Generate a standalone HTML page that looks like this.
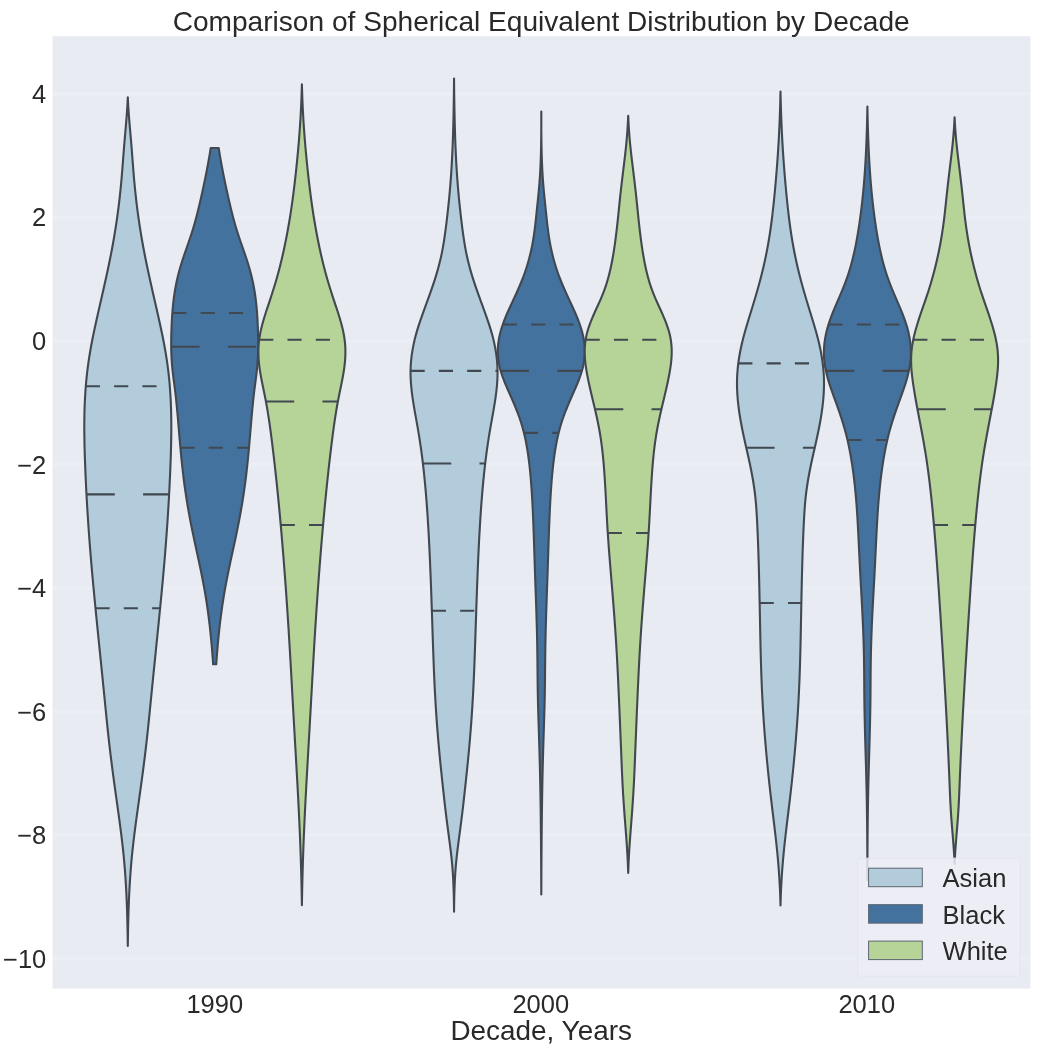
<!DOCTYPE html>
<html><head><meta charset="utf-8"><title>Violin</title>
<style>
html,body{margin:0;padding:0;background:#ffffff;}
body{width:1050px;height:1049px;overflow:hidden;}
svg{display:block;will-change:transform;opacity:0.999;}
text{font-family:"Liberation Sans",sans-serif;fill:#262626;}
</style></head><body>
<svg width="1050" height="1049" viewBox="0 0 1050 1049">
<rect x="52.5" y="36.2" width="978.0" height="952.4" fill="#e9ebf3"/>
<line x1="52.5" x2="1030.5" y1="93.73" y2="93.73" stroke="#ffffff" stroke-opacity="0.17" stroke-width="4"/>
<line x1="52.5" x2="1030.5" y1="217.29" y2="217.29" stroke="#ffffff" stroke-opacity="0.17" stroke-width="4"/>
<line x1="52.5" x2="1030.5" y1="340.85" y2="340.85" stroke="#ffffff" stroke-opacity="0.17" stroke-width="4"/>
<line x1="52.5" x2="1030.5" y1="464.41" y2="464.41" stroke="#ffffff" stroke-opacity="0.17" stroke-width="4"/>
<line x1="52.5" x2="1030.5" y1="587.97" y2="587.97" stroke="#ffffff" stroke-opacity="0.17" stroke-width="4"/>
<line x1="52.5" x2="1030.5" y1="711.53" y2="711.53" stroke="#ffffff" stroke-opacity="0.17" stroke-width="4"/>
<line x1="52.5" x2="1030.5" y1="835.09" y2="835.09" stroke="#ffffff" stroke-opacity="0.17" stroke-width="4"/>
<line x1="52.5" x2="1030.5" y1="958.65" y2="958.65" stroke="#ffffff" stroke-opacity="0.17" stroke-width="4"/>
<path d="M127.80,97.20 L127.71,99.20 L127.61,101.20 L127.51,103.20 L127.40,105.20 L127.28,107.20 L127.15,109.20 L127.02,111.20 L126.87,113.20 L126.73,115.20 L126.58,117.20 L126.42,119.20 L126.26,121.20 L126.09,123.20 L125.92,125.20 L125.75,127.20 L125.58,129.20 L125.40,131.20 L125.23,133.20 L125.06,135.20 L124.88,137.20 L124.71,139.20 L124.54,141.20 L124.37,143.20 L124.21,145.20 L124.05,147.20 L123.89,149.20 L123.73,151.20 L123.57,153.20 L123.42,155.20 L123.27,157.20 L123.11,159.20 L122.96,161.20 L122.81,163.20 L122.66,165.20 L122.51,167.20 L122.35,169.20 L122.19,171.20 L122.03,173.20 L121.86,175.20 L121.69,177.20 L121.52,179.20 L121.34,181.20 L121.15,183.20 L120.96,185.20 L120.77,187.20 L120.57,189.20 L120.37,191.20 L120.16,193.20 L119.94,195.20 L119.72,197.20 L119.50,199.20 L119.27,201.20 L119.03,203.20 L118.79,205.20 L118.54,207.20 L118.29,209.20 L118.03,211.20 L117.76,213.20 L117.49,215.20 L117.21,217.20 L116.93,219.20 L116.63,221.20 L116.34,223.20 L116.04,225.20 L115.73,227.20 L115.41,229.20 L115.09,231.20 L114.76,233.20 L114.43,235.20 L114.09,237.20 L113.74,239.20 L113.39,241.20 L113.03,243.20 L112.67,245.20 L112.30,247.20 L111.93,249.20 L111.54,251.20 L111.16,253.20 L110.77,255.20 L110.37,257.20 L109.97,259.20 L109.56,261.20 L109.15,263.20 L108.74,265.20 L108.32,267.20 L107.89,269.20 L107.47,271.20 L107.03,273.20 L106.60,275.20 L106.16,277.20 L105.72,279.20 L105.28,281.20 L104.84,283.20 L104.39,285.20 L103.94,287.20 L103.49,289.20 L103.04,291.20 L102.58,293.20 L102.13,295.20 L101.67,297.20 L101.22,299.20 L100.76,301.20 L100.30,303.20 L99.85,305.20 L99.39,307.20 L98.93,309.20 L98.48,311.20 L98.03,313.20 L97.58,315.20 L97.13,317.20 L96.68,319.20 L96.24,321.20 L95.80,323.20 L95.36,325.20 L94.93,327.20 L94.50,329.20 L94.07,331.20 L93.65,333.20 L93.23,335.20 L92.83,337.20 L92.43,339.20 L92.04,341.20 L91.66,343.20 L91.28,345.20 L90.92,347.20 L90.56,349.20 L90.22,351.20 L89.88,353.20 L89.55,355.20 L89.24,357.20 L88.93,359.20 L88.63,361.20 L88.35,363.20 L88.07,365.20 L87.80,367.20 L87.55,369.20 L87.30,371.20 L87.07,373.20 L86.85,375.20 L86.64,377.20 L86.43,379.20 L86.24,381.20 L86.06,383.20 L85.89,385.20 L85.73,387.20 L85.58,389.20 L85.43,391.20 L85.30,393.20 L85.18,395.20 L85.06,397.20 L84.96,399.20 L84.86,401.20 L84.77,403.20 L84.69,405.20 L84.62,407.20 L84.55,409.20 L84.50,411.20 L84.45,413.20 L84.41,415.20 L84.37,417.20 L84.35,419.20 L84.32,421.20 L84.31,423.20 L84.30,425.20 L84.30,427.20 L84.30,429.20 L84.31,431.20 L84.33,433.20 L84.35,435.20 L84.38,437.20 L84.41,439.20 L84.44,441.20 L84.48,443.20 L84.52,445.20 L84.57,447.20 L84.62,449.20 L84.68,451.20 L84.74,453.20 L84.80,455.20 L84.87,457.20 L84.93,459.20 L85.00,461.20 L85.08,463.20 L85.15,465.20 L85.23,467.20 L85.31,469.20 L85.39,471.20 L85.47,473.20 L85.56,475.20 L85.65,477.20 L85.74,479.20 L85.83,481.20 L85.93,483.20 L86.02,485.20 L86.12,487.20 L86.22,489.20 L86.32,491.20 L86.43,493.20 L86.53,495.20 L86.64,497.20 L86.75,499.20 L86.87,501.20 L86.98,503.20 L87.10,505.20 L87.22,507.20 L87.34,509.20 L87.46,511.20 L87.59,513.20 L87.71,515.20 L87.84,517.20 L87.97,519.20 L88.10,521.20 L88.24,523.20 L88.37,525.20 L88.51,527.20 L88.65,529.20 L88.79,531.20 L88.94,533.20 L89.08,535.20 L89.23,537.20 L89.38,539.20 L89.53,541.20 L89.68,543.20 L89.84,545.20 L89.99,547.20 L90.15,549.20 L90.31,551.20 L90.47,553.20 L90.64,555.20 L90.80,557.20 L90.97,559.20 L91.13,561.20 L91.30,563.20 L91.47,565.20 L91.65,567.20 L91.82,569.20 L92.00,571.20 L92.17,573.20 L92.35,575.20 L92.53,577.20 L92.72,579.20 L92.90,581.20 L93.08,583.20 L93.27,585.20 L93.46,587.20 L93.65,589.20 L93.84,591.20 L94.03,593.20 L94.22,595.20 L94.41,597.20 L94.60,599.20 L94.80,601.20 L94.99,603.20 L95.19,605.20 L95.38,607.20 L95.58,609.20 L95.78,611.20 L95.98,613.20 L96.17,615.20 L96.37,617.20 L96.57,619.20 L96.77,621.20 L96.97,623.20 L97.17,625.20 L97.37,627.20 L97.57,629.20 L97.78,631.20 L97.98,633.20 L98.18,635.20 L98.38,637.20 L98.58,639.20 L98.79,641.20 L98.99,643.20 L99.19,645.20 L99.40,647.20 L99.60,649.20 L99.80,651.20 L100.00,653.20 L100.21,655.20 L100.41,657.20 L100.61,659.20 L100.82,661.20 L101.02,663.20 L101.22,665.20 L101.43,667.20 L101.63,669.20 L101.83,671.20 L102.03,673.20 L102.24,675.20 L102.44,677.20 L102.64,679.20 L102.84,681.20 L103.04,683.20 L103.24,685.20 L103.44,687.20 L103.64,689.20 L103.84,691.20 L104.04,693.20 L104.24,695.20 L104.44,697.20 L104.64,699.20 L104.84,701.20 L105.04,703.20 L105.23,705.20 L105.43,707.20 L105.63,709.20 L105.83,711.20 L106.03,713.20 L106.23,715.20 L106.43,717.20 L106.63,719.20 L106.83,721.20 L107.04,723.20 L107.24,725.20 L107.45,727.20 L107.66,729.20 L107.87,731.20 L108.09,733.20 L108.31,735.20 L108.52,737.20 L108.75,739.20 L108.97,741.20 L109.20,743.20 L109.42,745.20 L109.66,747.20 L109.89,749.20 L110.13,751.20 L110.37,753.20 L110.61,755.20 L110.85,757.20 L111.10,759.20 L111.35,761.20 L111.60,763.20 L111.86,765.20 L112.11,767.20 L112.37,769.20 L112.63,771.20 L112.90,773.20 L113.16,775.20 L113.43,777.20 L113.70,779.20 L113.97,781.20 L114.25,783.20 L114.52,785.20 L114.80,787.20 L115.07,789.20 L115.35,791.20 L115.63,793.20 L115.91,795.20 L116.19,797.20 L116.47,799.20 L116.75,801.20 L117.03,803.20 L117.31,805.20 L117.59,807.20 L117.87,809.20 L118.15,811.20 L118.42,813.20 L118.70,815.20 L118.97,817.20 L119.25,819.20 L119.52,821.20 L119.78,823.20 L120.05,825.20 L120.31,827.20 L120.57,829.20 L120.83,831.20 L121.08,833.20 L121.33,835.20 L121.58,837.20 L121.82,839.20 L122.06,841.20 L122.30,843.20 L122.52,845.20 L122.75,847.20 L122.96,849.20 L123.18,851.20 L123.38,853.20 L123.59,855.20 L123.78,857.20 L123.97,859.20 L124.15,861.20 L124.33,863.20 L124.50,865.20 L124.67,867.20 L124.83,869.20 L124.99,871.20 L125.14,873.20 L125.28,875.20 L125.42,877.20 L125.55,879.20 L125.68,881.20 L125.80,883.20 L125.92,885.20 L126.03,887.20 L126.14,889.20 L126.25,891.20 L126.35,893.20 L126.44,895.20 L126.53,897.20 L126.62,899.20 L126.70,901.20 L126.78,903.20 L126.86,905.20 L126.93,907.20 L127.00,909.20 L127.06,911.20 L127.13,913.20 L127.19,915.20 L127.24,917.20 L127.30,919.20 L127.35,921.20 L127.40,923.20 L127.44,925.20 L127.49,927.20 L127.53,929.20 L127.57,931.20 L127.61,933.20 L127.64,935.20 L127.68,937.20 L127.71,939.20 L127.74,941.20 L127.77,943.20 L127.80,945.20 L127.80,946.00 L127.80,946.00 L127.80,945.20 L127.83,943.20 L127.86,941.20 L127.89,939.20 L127.92,937.20 L127.96,935.20 L127.99,933.20 L128.03,931.20 L128.07,929.20 L128.11,927.20 L128.16,925.20 L128.20,923.20 L128.25,921.20 L128.30,919.20 L128.36,917.20 L128.41,915.20 L128.47,913.20 L128.54,911.20 L128.60,909.20 L128.67,907.20 L128.74,905.20 L128.82,903.20 L128.90,901.20 L128.98,899.20 L129.07,897.20 L129.16,895.20 L129.25,893.20 L129.35,891.20 L129.46,889.20 L129.57,887.20 L129.68,885.20 L129.80,883.20 L129.92,881.20 L130.05,879.20 L130.18,877.20 L130.32,875.20 L130.46,873.20 L130.61,871.20 L130.77,869.20 L130.93,867.20 L131.10,865.20 L131.27,863.20 L131.45,861.20 L131.63,859.20 L131.82,857.20 L132.01,855.20 L132.22,853.20 L132.42,851.20 L132.64,849.20 L132.85,847.20 L133.08,845.20 L133.30,843.20 L133.54,841.20 L133.78,839.20 L134.02,837.20 L134.27,835.20 L134.52,833.20 L134.77,831.20 L135.03,829.20 L135.29,827.20 L135.55,825.20 L135.82,823.20 L136.08,821.20 L136.35,819.20 L136.63,817.20 L136.90,815.20 L137.18,813.20 L137.45,811.20 L137.73,809.20 L138.01,807.20 L138.29,805.20 L138.57,803.20 L138.85,801.20 L139.13,799.20 L139.41,797.20 L139.69,795.20 L139.97,793.20 L140.25,791.20 L140.53,789.20 L140.80,787.20 L141.08,785.20 L141.35,783.20 L141.63,781.20 L141.90,779.20 L142.17,777.20 L142.44,775.20 L142.70,773.20 L142.97,771.20 L143.23,769.20 L143.49,767.20 L143.74,765.20 L144.00,763.20 L144.25,761.20 L144.50,759.20 L144.75,757.20 L144.99,755.20 L145.23,753.20 L145.47,751.20 L145.71,749.20 L145.94,747.20 L146.18,745.20 L146.40,743.20 L146.63,741.20 L146.85,739.20 L147.08,737.20 L147.29,735.20 L147.51,733.20 L147.73,731.20 L147.94,729.20 L148.15,727.20 L148.36,725.20 L148.56,723.20 L148.77,721.20 L148.97,719.20 L149.17,717.20 L149.37,715.20 L149.57,713.20 L149.77,711.20 L149.97,709.20 L150.17,707.20 L150.37,705.20 L150.56,703.20 L150.76,701.20 L150.96,699.20 L151.16,697.20 L151.36,695.20 L151.56,693.20 L151.76,691.20 L151.96,689.20 L152.16,687.20 L152.36,685.20 L152.56,683.20 L152.76,681.20 L152.96,679.20 L153.16,677.20 L153.36,675.20 L153.57,673.20 L153.77,671.20 L153.97,669.20 L154.17,667.20 L154.38,665.20 L154.58,663.20 L154.78,661.20 L154.99,659.20 L155.19,657.20 L155.39,655.20 L155.60,653.20 L155.80,651.20 L156.00,649.20 L156.20,647.20 L156.41,645.20 L156.61,643.20 L156.81,641.20 L157.02,639.20 L157.22,637.20 L157.42,635.20 L157.62,633.20 L157.82,631.20 L158.03,629.20 L158.23,627.20 L158.43,625.20 L158.63,623.20 L158.83,621.20 L159.03,619.20 L159.23,617.20 L159.43,615.20 L159.62,613.20 L159.82,611.20 L160.02,609.20 L160.22,607.20 L160.41,605.20 L160.61,603.20 L160.80,601.20 L161.00,599.20 L161.19,597.20 L161.38,595.20 L161.57,593.20 L161.76,591.20 L161.95,589.20 L162.14,587.20 L162.33,585.20 L162.52,583.20 L162.70,581.20 L162.88,579.20 L163.07,577.20 L163.25,575.20 L163.43,573.20 L163.60,571.20 L163.78,569.20 L163.95,567.20 L164.13,565.20 L164.30,563.20 L164.47,561.20 L164.63,559.20 L164.80,557.20 L164.96,555.20 L165.13,553.20 L165.29,551.20 L165.45,549.20 L165.61,547.20 L165.76,545.20 L165.92,543.20 L166.07,541.20 L166.22,539.20 L166.37,537.20 L166.52,535.20 L166.66,533.20 L166.81,531.20 L166.95,529.20 L167.09,527.20 L167.23,525.20 L167.36,523.20 L167.50,521.20 L167.63,519.20 L167.76,517.20 L167.89,515.20 L168.01,513.20 L168.14,511.20 L168.26,509.20 L168.38,507.20 L168.50,505.20 L168.62,503.20 L168.73,501.20 L168.85,499.20 L168.96,497.20 L169.07,495.20 L169.17,493.20 L169.28,491.20 L169.38,489.20 L169.48,487.20 L169.58,485.20 L169.67,483.20 L169.77,481.20 L169.86,479.20 L169.95,477.20 L170.04,475.20 L170.13,473.20 L170.21,471.20 L170.29,469.20 L170.37,467.20 L170.45,465.20 L170.52,463.20 L170.60,461.20 L170.67,459.20 L170.73,457.20 L170.80,455.20 L170.86,453.20 L170.92,451.20 L170.98,449.20 L171.03,447.20 L171.08,445.20 L171.12,443.20 L171.16,441.20 L171.19,439.20 L171.22,437.20 L171.25,435.20 L171.27,433.20 L171.29,431.20 L171.30,429.20 L171.30,427.20 L171.30,425.20 L171.29,423.20 L171.28,421.20 L171.25,419.20 L171.23,417.20 L171.19,415.20 L171.15,413.20 L171.10,411.20 L171.05,409.20 L170.98,407.20 L170.91,405.20 L170.83,403.20 L170.74,401.20 L170.64,399.20 L170.54,397.20 L170.42,395.20 L170.30,393.20 L170.17,391.20 L170.02,389.20 L169.87,387.20 L169.71,385.20 L169.54,383.20 L169.36,381.20 L169.17,379.20 L168.96,377.20 L168.75,375.20 L168.53,373.20 L168.30,371.20 L168.05,369.20 L167.80,367.20 L167.53,365.20 L167.25,363.20 L166.97,361.20 L166.67,359.20 L166.36,357.20 L166.05,355.20 L165.72,353.20 L165.38,351.20 L165.04,349.20 L164.68,347.20 L164.32,345.20 L163.94,343.20 L163.56,341.20 L163.17,339.20 L162.77,337.20 L162.37,335.20 L161.95,333.20 L161.53,331.20 L161.10,329.20 L160.67,327.20 L160.24,325.20 L159.80,323.20 L159.36,321.20 L158.92,319.20 L158.47,317.20 L158.02,315.20 L157.57,313.20 L157.12,311.20 L156.67,309.20 L156.21,307.20 L155.75,305.20 L155.30,303.20 L154.84,301.20 L154.38,299.20 L153.93,297.20 L153.47,295.20 L153.02,293.20 L152.56,291.20 L152.11,289.20 L151.66,287.20 L151.21,285.20 L150.76,283.20 L150.32,281.20 L149.88,279.20 L149.44,277.20 L149.00,275.20 L148.57,273.20 L148.13,271.20 L147.71,269.20 L147.28,267.20 L146.86,265.20 L146.45,263.20 L146.04,261.20 L145.63,259.20 L145.23,257.20 L144.83,255.20 L144.44,253.20 L144.06,251.20 L143.67,249.20 L143.30,247.20 L142.93,245.20 L142.57,243.20 L142.21,241.20 L141.86,239.20 L141.51,237.20 L141.17,235.20 L140.84,233.20 L140.51,231.20 L140.19,229.20 L139.87,227.20 L139.56,225.20 L139.26,223.20 L138.97,221.20 L138.67,219.20 L138.39,217.20 L138.11,215.20 L137.84,213.20 L137.57,211.20 L137.31,209.20 L137.06,207.20 L136.81,205.20 L136.57,203.20 L136.33,201.20 L136.10,199.20 L135.88,197.20 L135.66,195.20 L135.44,193.20 L135.23,191.20 L135.03,189.20 L134.83,187.20 L134.64,185.20 L134.45,183.20 L134.26,181.20 L134.08,179.20 L133.91,177.20 L133.74,175.20 L133.57,173.20 L133.41,171.20 L133.25,169.20 L133.09,167.20 L132.94,165.20 L132.79,163.20 L132.64,161.20 L132.49,159.20 L132.33,157.20 L132.18,155.20 L132.03,153.20 L131.87,151.20 L131.71,149.20 L131.55,147.20 L131.39,145.20 L131.23,143.20 L131.06,141.20 L130.89,139.20 L130.72,137.20 L130.54,135.20 L130.37,133.20 L130.20,131.20 L130.02,129.20 L129.85,127.20 L129.68,125.20 L129.51,123.20 L129.34,121.20 L129.18,119.20 L129.02,117.20 L128.87,115.20 L128.73,113.20 L128.58,111.20 L128.45,109.20 L128.32,107.20 L128.20,105.20 L128.09,103.20 L127.99,101.20 L127.89,99.20 L127.80,97.20 Z" fill="#B3CCDB" stroke="#414850" stroke-width="2.1" stroke-linejoin="round"/>
<line x1="85.80" x2="169.80" y1="386.30" y2="386.30" stroke="#414850" stroke-width="2.1" stroke-dasharray="14.15,14.15"/>
<line x1="86.49" x2="169.11" y1="494.40" y2="494.40" stroke="#414850" stroke-width="2.1" stroke-dasharray="28.3,28.3"/>
<line x1="95.48" x2="160.12" y1="608.20" y2="608.20" stroke="#414850" stroke-width="2.1" stroke-dasharray="14.15,14.15"/>
<path d="M210.70,148.00 L210.38,150.00 L210.07,152.00 L209.75,154.00 L209.42,156.00 L209.08,158.00 L208.73,160.00 L208.37,162.00 L208.01,164.00 L207.64,166.00 L207.26,168.00 L206.87,170.00 L206.48,172.00 L206.09,174.00 L205.69,176.00 L205.28,178.00 L204.87,180.00 L204.45,182.00 L204.03,184.00 L203.61,186.00 L203.18,188.00 L202.75,190.00 L202.31,192.00 L201.87,194.00 L201.42,196.00 L200.97,198.00 L200.52,200.00 L200.06,202.00 L199.59,204.00 L199.12,206.00 L198.64,208.00 L198.15,210.00 L197.65,212.00 L197.15,214.00 L196.64,216.00 L196.11,218.00 L195.57,220.00 L195.02,222.00 L194.45,224.00 L193.87,226.00 L193.27,228.00 L192.65,230.00 L192.02,232.00 L191.38,234.00 L190.72,236.00 L190.06,238.00 L189.38,240.00 L188.70,242.00 L188.00,244.00 L187.31,246.00 L186.61,248.00 L185.92,250.00 L185.22,252.00 L184.53,254.00 L183.85,256.00 L183.17,258.00 L182.52,260.00 L181.87,262.00 L181.25,264.00 L180.64,266.00 L180.05,268.00 L179.49,270.00 L178.95,272.00 L178.43,274.00 L177.93,276.00 L177.45,278.00 L177.00,280.00 L176.57,282.00 L176.15,284.00 L175.77,286.00 L175.40,288.00 L175.05,290.00 L174.72,292.00 L174.41,294.00 L174.12,296.00 L173.85,298.00 L173.60,300.00 L173.36,302.00 L173.14,304.00 L172.94,306.00 L172.75,308.00 L172.58,310.00 L172.42,312.00 L172.27,314.00 L172.14,316.00 L172.01,318.00 L171.90,320.00 L171.79,322.00 L171.70,324.00 L171.61,326.00 L171.53,328.00 L171.46,330.00 L171.39,332.00 L171.33,334.00 L171.29,336.00 L171.25,338.00 L171.22,340.00 L171.20,342.00 L171.20,344.00 L171.21,346.00 L171.23,348.00 L171.26,350.00 L171.31,352.00 L171.38,354.00 L171.46,356.00 L171.55,358.00 L171.67,360.00 L171.80,362.00 L171.95,364.00 L172.11,366.00 L172.30,368.00 L172.50,370.00 L172.73,372.00 L172.96,374.00 L173.21,376.00 L173.46,378.00 L173.72,380.00 L173.99,382.00 L174.25,384.00 L174.51,386.00 L174.77,388.00 L175.02,390.00 L175.26,392.00 L175.49,394.00 L175.72,396.00 L175.94,398.00 L176.15,400.00 L176.36,402.00 L176.56,404.00 L176.76,406.00 L176.95,408.00 L177.14,410.00 L177.32,412.00 L177.50,414.00 L177.68,416.00 L177.86,418.00 L178.03,420.00 L178.20,422.00 L178.37,424.00 L178.54,426.00 L178.71,428.00 L178.88,430.00 L179.05,432.00 L179.22,434.00 L179.38,436.00 L179.55,438.00 L179.73,440.00 L179.90,442.00 L180.07,444.00 L180.25,446.00 L180.43,448.00 L180.61,450.00 L180.80,452.00 L180.99,454.00 L181.18,456.00 L181.37,458.00 L181.57,460.00 L181.78,462.00 L181.99,464.00 L182.20,466.00 L182.42,468.00 L182.64,470.00 L182.87,472.00 L183.10,474.00 L183.34,476.00 L183.59,478.00 L183.84,480.00 L184.10,482.00 L184.36,484.00 L184.63,486.00 L184.91,488.00 L185.19,490.00 L185.48,492.00 L185.78,494.00 L186.08,496.00 L186.39,498.00 L186.71,500.00 L187.03,502.00 L187.36,504.00 L187.69,506.00 L188.04,508.00 L188.38,510.00 L188.74,512.00 L189.10,514.00 L189.47,516.00 L189.84,518.00 L190.22,520.00 L190.60,522.00 L190.99,524.00 L191.39,526.00 L191.79,528.00 L192.19,530.00 L192.60,532.00 L193.01,534.00 L193.43,536.00 L193.85,538.00 L194.27,540.00 L194.70,542.00 L195.13,544.00 L195.56,546.00 L195.99,548.00 L196.43,550.00 L196.86,552.00 L197.30,554.00 L197.73,556.00 L198.17,558.00 L198.60,560.00 L199.03,562.00 L199.45,564.00 L199.88,566.00 L200.30,568.00 L200.71,570.00 L201.12,572.00 L201.53,574.00 L201.93,576.00 L202.32,578.00 L202.71,580.00 L203.10,582.00 L203.47,584.00 L203.85,586.00 L204.21,588.00 L204.57,590.00 L204.92,592.00 L205.26,594.00 L205.59,596.00 L205.92,598.00 L206.24,600.00 L206.55,602.00 L206.86,604.00 L207.16,606.00 L207.45,608.00 L207.73,610.00 L208.00,612.00 L208.27,614.00 L208.53,616.00 L208.78,618.00 L209.03,620.00 L209.27,622.00 L209.50,624.00 L209.73,626.00 L209.95,628.00 L210.17,630.00 L210.38,632.00 L210.59,634.00 L210.79,636.00 L210.98,638.00 L211.18,640.00 L211.36,642.00 L211.55,644.00 L211.73,646.00 L211.90,648.00 L212.07,650.00 L212.23,652.00 L212.39,654.00 L212.55,656.00 L212.70,658.00 L212.85,660.00 L212.99,662.00 L213.13,664.00 L213.10,664.30 L216.30,664.30 L216.27,664.00 L216.41,662.00 L216.55,660.00 L216.70,658.00 L216.85,656.00 L217.01,654.00 L217.17,652.00 L217.33,650.00 L217.50,648.00 L217.67,646.00 L217.85,644.00 L218.04,642.00 L218.22,640.00 L218.42,638.00 L218.61,636.00 L218.81,634.00 L219.02,632.00 L219.23,630.00 L219.45,628.00 L219.67,626.00 L219.90,624.00 L220.13,622.00 L220.37,620.00 L220.62,618.00 L220.87,616.00 L221.13,614.00 L221.40,612.00 L221.67,610.00 L221.95,608.00 L222.24,606.00 L222.54,604.00 L222.85,602.00 L223.16,600.00 L223.48,598.00 L223.81,596.00 L224.14,594.00 L224.48,592.00 L224.83,590.00 L225.19,588.00 L225.55,586.00 L225.93,584.00 L226.30,582.00 L226.69,580.00 L227.08,578.00 L227.47,576.00 L227.87,574.00 L228.28,572.00 L228.69,570.00 L229.10,568.00 L229.52,566.00 L229.95,564.00 L230.37,562.00 L230.80,560.00 L231.23,558.00 L231.67,556.00 L232.10,554.00 L232.54,552.00 L232.97,550.00 L233.41,548.00 L233.84,546.00 L234.27,544.00 L234.70,542.00 L235.13,540.00 L235.55,538.00 L235.97,536.00 L236.39,534.00 L236.80,532.00 L237.21,530.00 L237.61,528.00 L238.01,526.00 L238.41,524.00 L238.80,522.00 L239.18,520.00 L239.56,518.00 L239.93,516.00 L240.30,514.00 L240.66,512.00 L241.02,510.00 L241.36,508.00 L241.71,506.00 L242.04,504.00 L242.37,502.00 L242.69,500.00 L243.01,498.00 L243.32,496.00 L243.62,494.00 L243.92,492.00 L244.21,490.00 L244.49,488.00 L244.77,486.00 L245.04,484.00 L245.30,482.00 L245.56,480.00 L245.81,478.00 L246.06,476.00 L246.30,474.00 L246.53,472.00 L246.76,470.00 L246.98,468.00 L247.20,466.00 L247.41,464.00 L247.62,462.00 L247.83,460.00 L248.03,458.00 L248.22,456.00 L248.41,454.00 L248.60,452.00 L248.79,450.00 L248.97,448.00 L249.15,446.00 L249.33,444.00 L249.50,442.00 L249.67,440.00 L249.85,438.00 L250.02,436.00 L250.18,434.00 L250.35,432.00 L250.52,430.00 L250.69,428.00 L250.86,426.00 L251.03,424.00 L251.20,422.00 L251.37,420.00 L251.54,418.00 L251.72,416.00 L251.90,414.00 L252.08,412.00 L252.26,410.00 L252.45,408.00 L252.64,406.00 L252.84,404.00 L253.04,402.00 L253.25,400.00 L253.46,398.00 L253.68,396.00 L253.91,394.00 L254.14,392.00 L254.38,390.00 L254.63,388.00 L254.89,386.00 L255.15,384.00 L255.41,382.00 L255.68,380.00 L255.94,378.00 L256.19,376.00 L256.44,374.00 L256.67,372.00 L256.90,370.00 L257.10,368.00 L257.29,366.00 L257.45,364.00 L257.60,362.00 L257.73,360.00 L257.85,358.00 L257.94,356.00 L258.02,354.00 L258.09,352.00 L258.14,350.00 L258.17,348.00 L258.19,346.00 L258.20,344.00 L258.20,342.00 L258.18,340.00 L258.15,338.00 L258.11,336.00 L258.07,334.00 L258.01,332.00 L257.94,330.00 L257.87,328.00 L257.79,326.00 L257.70,324.00 L257.61,322.00 L257.50,320.00 L257.39,318.00 L257.26,316.00 L257.13,314.00 L256.98,312.00 L256.82,310.00 L256.65,308.00 L256.46,306.00 L256.26,304.00 L256.04,302.00 L255.80,300.00 L255.55,298.00 L255.28,296.00 L254.99,294.00 L254.68,292.00 L254.35,290.00 L254.00,288.00 L253.63,286.00 L253.25,284.00 L252.83,282.00 L252.40,280.00 L251.95,278.00 L251.47,276.00 L250.97,274.00 L250.45,272.00 L249.91,270.00 L249.35,268.00 L248.76,266.00 L248.15,264.00 L247.53,262.00 L246.88,260.00 L246.23,258.00 L245.55,256.00 L244.87,254.00 L244.18,252.00 L243.48,250.00 L242.79,248.00 L242.09,246.00 L241.40,244.00 L240.70,242.00 L240.02,240.00 L239.34,238.00 L238.68,236.00 L238.02,234.00 L237.38,232.00 L236.75,230.00 L236.13,228.00 L235.53,226.00 L234.95,224.00 L234.38,222.00 L233.83,220.00 L233.29,218.00 L232.76,216.00 L232.25,214.00 L231.75,212.00 L231.25,210.00 L230.76,208.00 L230.28,206.00 L229.81,204.00 L229.34,202.00 L228.88,200.00 L228.43,198.00 L227.98,196.00 L227.53,194.00 L227.09,192.00 L226.65,190.00 L226.22,188.00 L225.79,186.00 L225.37,184.00 L224.95,182.00 L224.53,180.00 L224.12,178.00 L223.71,176.00 L223.31,174.00 L222.92,172.00 L222.53,170.00 L222.14,168.00 L221.76,166.00 L221.39,164.00 L221.03,162.00 L220.67,160.00 L220.32,158.00 L219.98,156.00 L219.65,154.00 L219.33,152.00 L219.02,150.00 L218.70,148.00 Z" fill="#44729F" stroke="#414850" stroke-width="2.1" stroke-linejoin="round"/>
<line x1="172.34" x2="257.06" y1="313.00" y2="313.00" stroke="#414850" stroke-width="2.1" stroke-dasharray="14.15,14.15"/>
<line x1="171.21" x2="258.19" y1="346.80" y2="346.80" stroke="#414850" stroke-width="2.1" stroke-dasharray="28.3,28.3"/>
<line x1="180.41" x2="248.99" y1="447.80" y2="447.80" stroke="#414850" stroke-width="2.1" stroke-dasharray="14.15,14.15"/>
<path d="M301.90,84.30 L301.85,86.30 L301.79,88.30 L301.73,90.30 L301.67,92.30 L301.60,94.30 L301.53,96.30 L301.46,98.30 L301.38,100.30 L301.30,102.30 L301.21,104.30 L301.12,106.30 L301.02,108.30 L300.92,110.30 L300.82,112.30 L300.71,114.30 L300.60,116.30 L300.49,118.30 L300.37,120.30 L300.24,122.30 L300.11,124.30 L299.98,126.30 L299.84,128.30 L299.70,130.30 L299.56,132.30 L299.41,134.30 L299.25,136.30 L299.10,138.30 L298.93,140.30 L298.77,142.30 L298.60,144.30 L298.43,146.30 L298.25,148.30 L298.07,150.30 L297.89,152.30 L297.70,154.30 L297.51,156.30 L297.32,158.30 L297.13,160.30 L296.93,162.30 L296.72,164.30 L296.52,166.30 L296.31,168.30 L296.10,170.30 L295.88,172.30 L295.66,174.30 L295.44,176.30 L295.22,178.30 L294.99,180.30 L294.76,182.30 L294.52,184.30 L294.28,186.30 L294.04,188.30 L293.79,190.30 L293.54,192.30 L293.28,194.30 L293.02,196.30 L292.76,198.30 L292.49,200.30 L292.21,202.30 L291.93,204.30 L291.64,206.30 L291.35,208.30 L291.05,210.30 L290.75,212.30 L290.44,214.30 L290.13,216.30 L289.80,218.30 L289.48,220.30 L289.14,222.30 L288.80,224.30 L288.46,226.30 L288.10,228.30 L287.74,230.30 L287.38,232.30 L287.00,234.30 L286.62,236.30 L286.24,238.30 L285.84,240.30 L285.44,242.30 L285.03,244.30 L284.61,246.30 L284.19,248.30 L283.76,250.30 L283.31,252.30 L282.87,254.30 L282.41,256.30 L281.94,258.30 L281.47,260.30 L280.98,262.30 L280.49,264.30 L279.99,266.30 L279.47,268.30 L278.95,270.30 L278.42,272.30 L277.87,274.30 L277.32,276.30 L276.76,278.30 L276.18,280.30 L275.59,282.30 L275.00,284.30 L274.39,286.30 L273.76,288.30 L273.13,290.30 L272.49,292.30 L271.84,294.30 L271.19,296.30 L270.53,298.30 L269.87,300.30 L269.20,302.30 L268.54,304.30 L267.87,306.30 L267.21,308.30 L266.56,310.30 L265.91,312.30 L265.28,314.30 L264.65,316.30 L264.05,318.30 L263.46,320.30 L262.89,322.30 L262.34,324.30 L261.82,326.30 L261.33,328.30 L260.86,330.30 L260.44,332.30 L260.04,334.30 L259.69,336.30 L259.37,338.30 L259.10,340.30 L258.88,342.30 L258.69,344.30 L258.56,346.30 L258.46,348.30 L258.41,350.30 L258.40,352.30 L258.43,354.30 L258.50,356.30 L258.60,358.30 L258.74,360.30 L258.91,362.30 L259.11,364.30 L259.35,366.30 L259.61,368.30 L259.90,370.30 L260.21,372.30 L260.55,374.30 L260.90,376.30 L261.27,378.30 L261.65,380.30 L262.04,382.30 L262.44,384.30 L262.85,386.30 L263.26,388.30 L263.67,390.30 L264.08,392.30 L264.49,394.30 L264.89,396.30 L265.29,398.30 L265.68,400.30 L266.06,402.30 L266.43,404.30 L266.79,406.30 L267.14,408.30 L267.48,410.30 L267.81,412.30 L268.13,414.30 L268.45,416.30 L268.76,418.30 L269.06,420.30 L269.36,422.30 L269.65,424.30 L269.93,426.30 L270.21,428.30 L270.48,430.30 L270.75,432.30 L271.01,434.30 L271.27,436.30 L271.53,438.30 L271.79,440.30 L272.04,442.30 L272.28,444.30 L272.53,446.30 L272.77,448.30 L273.01,450.30 L273.25,452.30 L273.49,454.30 L273.73,456.30 L273.96,458.30 L274.19,460.30 L274.42,462.30 L274.65,464.30 L274.87,466.30 L275.10,468.30 L275.32,470.30 L275.54,472.30 L275.75,474.30 L275.97,476.30 L276.18,478.30 L276.40,480.30 L276.61,482.30 L276.82,484.30 L277.03,486.30 L277.23,488.30 L277.44,490.30 L277.64,492.30 L277.84,494.30 L278.04,496.30 L278.24,498.30 L278.43,500.30 L278.63,502.30 L278.82,504.30 L279.01,506.30 L279.20,508.30 L279.39,510.30 L279.58,512.30 L279.77,514.30 L279.95,516.30 L280.13,518.30 L280.32,520.30 L280.50,522.30 L280.68,524.30 L280.86,526.30 L281.03,528.30 L281.21,530.30 L281.38,532.30 L281.56,534.30 L281.73,536.30 L281.90,538.30 L282.07,540.30 L282.24,542.30 L282.40,544.30 L282.57,546.30 L282.73,548.30 L282.90,550.30 L283.06,552.30 L283.22,554.30 L283.38,556.30 L283.54,558.30 L283.70,560.30 L283.86,562.30 L284.01,564.30 L284.17,566.30 L284.32,568.30 L284.47,570.30 L284.63,572.30 L284.78,574.30 L284.93,576.30 L285.08,578.30 L285.22,580.30 L285.37,582.30 L285.52,584.30 L285.66,586.30 L285.81,588.30 L285.95,590.30 L286.09,592.30 L286.23,594.30 L286.37,596.30 L286.51,598.30 L286.65,600.30 L286.79,602.30 L286.93,604.30 L287.06,606.30 L287.20,608.30 L287.33,610.30 L287.47,612.30 L287.60,614.30 L287.73,616.30 L287.86,618.30 L287.99,620.30 L288.12,622.30 L288.25,624.30 L288.38,626.30 L288.50,628.30 L288.63,630.30 L288.76,632.30 L288.88,634.30 L289.00,636.30 L289.13,638.30 L289.25,640.30 L289.37,642.30 L289.49,644.30 L289.61,646.30 L289.73,648.30 L289.85,650.30 L289.97,652.30 L290.08,654.30 L290.20,656.30 L290.32,658.30 L290.43,660.30 L290.55,662.30 L290.66,664.30 L290.77,666.30 L290.89,668.30 L291.00,670.30 L291.11,672.30 L291.22,674.30 L291.33,676.30 L291.45,678.30 L291.56,680.30 L291.67,682.30 L291.78,684.30 L291.89,686.30 L292.00,688.30 L292.11,690.30 L292.22,692.30 L292.33,694.30 L292.44,696.30 L292.56,698.30 L292.67,700.30 L292.78,702.30 L292.89,704.30 L293.00,706.30 L293.11,708.30 L293.22,710.30 L293.34,712.30 L293.45,714.30 L293.56,716.30 L293.67,718.30 L293.79,720.30 L293.90,722.30 L294.01,724.30 L294.13,726.30 L294.24,728.30 L294.35,730.30 L294.47,732.30 L294.58,734.30 L294.70,736.30 L294.81,738.30 L294.92,740.30 L295.04,742.30 L295.15,744.30 L295.27,746.30 L295.38,748.30 L295.50,750.30 L295.61,752.30 L295.73,754.30 L295.84,756.30 L295.95,758.30 L296.07,760.30 L296.18,762.30 L296.30,764.30 L296.41,766.30 L296.52,768.30 L296.64,770.30 L296.75,772.30 L296.86,774.30 L296.97,776.30 L297.09,778.30 L297.20,780.30 L297.31,782.30 L297.42,784.30 L297.53,786.30 L297.63,788.30 L297.74,790.30 L297.85,792.30 L297.96,794.30 L298.06,796.30 L298.17,798.30 L298.27,800.30 L298.38,802.30 L298.48,804.30 L298.58,806.30 L298.68,808.30 L298.78,810.30 L298.88,812.30 L298.97,814.30 L299.07,816.30 L299.16,818.30 L299.26,820.30 L299.35,822.30 L299.44,824.30 L299.53,826.30 L299.62,828.30 L299.71,830.30 L299.79,832.30 L299.88,834.30 L299.96,836.30 L300.04,838.30 L300.12,840.30 L300.20,842.30 L300.28,844.30 L300.35,846.30 L300.43,848.30 L300.50,850.30 L300.57,852.30 L300.64,854.30 L300.71,856.30 L300.77,858.30 L300.84,860.30 L300.90,862.30 L300.96,864.30 L301.02,866.30 L301.08,868.30 L301.14,870.30 L301.19,872.30 L301.25,874.30 L301.30,876.30 L301.35,878.30 L301.40,880.30 L301.45,882.30 L301.49,884.30 L301.54,886.30 L301.58,888.30 L301.62,890.30 L301.66,892.30 L301.70,894.30 L301.74,896.30 L301.78,898.30 L301.81,900.30 L301.85,902.30 L301.88,904.30 L301.90,905.30 L301.90,905.30 L301.92,904.30 L301.95,902.30 L301.99,900.30 L302.02,898.30 L302.06,896.30 L302.10,894.30 L302.14,892.30 L302.18,890.30 L302.22,888.30 L302.26,886.30 L302.31,884.30 L302.35,882.30 L302.40,880.30 L302.45,878.30 L302.50,876.30 L302.55,874.30 L302.61,872.30 L302.66,870.30 L302.72,868.30 L302.78,866.30 L302.84,864.30 L302.90,862.30 L302.96,860.30 L303.03,858.30 L303.09,856.30 L303.16,854.30 L303.23,852.30 L303.30,850.30 L303.37,848.30 L303.45,846.30 L303.52,844.30 L303.60,842.30 L303.68,840.30 L303.76,838.30 L303.84,836.30 L303.92,834.30 L304.01,832.30 L304.09,830.30 L304.18,828.30 L304.27,826.30 L304.36,824.30 L304.45,822.30 L304.54,820.30 L304.64,818.30 L304.73,816.30 L304.83,814.30 L304.92,812.30 L305.02,810.30 L305.12,808.30 L305.22,806.30 L305.32,804.30 L305.42,802.30 L305.53,800.30 L305.63,798.30 L305.74,796.30 L305.84,794.30 L305.95,792.30 L306.06,790.30 L306.17,788.30 L306.27,786.30 L306.38,784.30 L306.49,782.30 L306.60,780.30 L306.71,778.30 L306.83,776.30 L306.94,774.30 L307.05,772.30 L307.16,770.30 L307.28,768.30 L307.39,766.30 L307.50,764.30 L307.62,762.30 L307.73,760.30 L307.85,758.30 L307.96,756.30 L308.07,754.30 L308.19,752.30 L308.30,750.30 L308.42,748.30 L308.53,746.30 L308.65,744.30 L308.76,742.30 L308.88,740.30 L308.99,738.30 L309.10,736.30 L309.22,734.30 L309.33,732.30 L309.45,730.30 L309.56,728.30 L309.67,726.30 L309.79,724.30 L309.90,722.30 L310.01,720.30 L310.13,718.30 L310.24,716.30 L310.35,714.30 L310.46,712.30 L310.58,710.30 L310.69,708.30 L310.80,706.30 L310.91,704.30 L311.02,702.30 L311.13,700.30 L311.24,698.30 L311.36,696.30 L311.47,694.30 L311.58,692.30 L311.69,690.30 L311.80,688.30 L311.91,686.30 L312.02,684.30 L312.13,682.30 L312.24,680.30 L312.35,678.30 L312.47,676.30 L312.58,674.30 L312.69,672.30 L312.80,670.30 L312.91,668.30 L313.03,666.30 L313.14,664.30 L313.25,662.30 L313.37,660.30 L313.48,658.30 L313.60,656.30 L313.72,654.30 L313.83,652.30 L313.95,650.30 L314.07,648.30 L314.19,646.30 L314.31,644.30 L314.43,642.30 L314.55,640.30 L314.67,638.30 L314.80,636.30 L314.92,634.30 L315.04,632.30 L315.17,630.30 L315.30,628.30 L315.42,626.30 L315.55,624.30 L315.68,622.30 L315.81,620.30 L315.94,618.30 L316.07,616.30 L316.20,614.30 L316.33,612.30 L316.47,610.30 L316.60,608.30 L316.74,606.30 L316.87,604.30 L317.01,602.30 L317.15,600.30 L317.29,598.30 L317.43,596.30 L317.57,594.30 L317.71,592.30 L317.85,590.30 L317.99,588.30 L318.14,586.30 L318.28,584.30 L318.43,582.30 L318.58,580.30 L318.72,578.30 L318.87,576.30 L319.02,574.30 L319.17,572.30 L319.33,570.30 L319.48,568.30 L319.63,566.30 L319.79,564.30 L319.94,562.30 L320.10,560.30 L320.26,558.30 L320.42,556.30 L320.58,554.30 L320.74,552.30 L320.90,550.30 L321.07,548.30 L321.23,546.30 L321.40,544.30 L321.56,542.30 L321.73,540.30 L321.90,538.30 L322.07,536.30 L322.24,534.30 L322.42,532.30 L322.59,530.30 L322.77,528.30 L322.94,526.30 L323.12,524.30 L323.30,522.30 L323.48,520.30 L323.67,518.30 L323.85,516.30 L324.03,514.30 L324.22,512.30 L324.41,510.30 L324.60,508.30 L324.79,506.30 L324.98,504.30 L325.17,502.30 L325.37,500.30 L325.56,498.30 L325.76,496.30 L325.96,494.30 L326.16,492.30 L326.36,490.30 L326.57,488.30 L326.77,486.30 L326.98,484.30 L327.19,482.30 L327.40,480.30 L327.62,478.30 L327.83,476.30 L328.05,474.30 L328.26,472.30 L328.48,470.30 L328.70,468.30 L328.93,466.30 L329.15,464.30 L329.38,462.30 L329.61,460.30 L329.84,458.30 L330.07,456.30 L330.31,454.30 L330.55,452.30 L330.79,450.30 L331.03,448.30 L331.27,446.30 L331.52,444.30 L331.76,442.30 L332.01,440.30 L332.27,438.30 L332.53,436.30 L332.79,434.30 L333.05,432.30 L333.32,430.30 L333.59,428.30 L333.87,426.30 L334.15,424.30 L334.44,422.30 L334.74,420.30 L335.04,418.30 L335.35,416.30 L335.67,414.30 L335.99,412.30 L336.32,410.30 L336.66,408.30 L337.01,406.30 L337.37,404.30 L337.74,402.30 L338.12,400.30 L338.51,398.30 L338.91,396.30 L339.31,394.30 L339.72,392.30 L340.13,390.30 L340.54,388.30 L340.95,386.30 L341.36,384.30 L341.76,382.30 L342.15,380.30 L342.53,378.30 L342.90,376.30 L343.25,374.30 L343.59,372.30 L343.90,370.30 L344.19,368.30 L344.45,366.30 L344.69,364.30 L344.89,362.30 L345.06,360.30 L345.20,358.30 L345.30,356.30 L345.37,354.30 L345.40,352.30 L345.39,350.30 L345.34,348.30 L345.24,346.30 L345.11,344.30 L344.92,342.30 L344.70,340.30 L344.43,338.30 L344.11,336.30 L343.76,334.30 L343.36,332.30 L342.94,330.30 L342.47,328.30 L341.98,326.30 L341.46,324.30 L340.91,322.30 L340.34,320.30 L339.75,318.30 L339.15,316.30 L338.52,314.30 L337.89,312.30 L337.24,310.30 L336.59,308.30 L335.93,306.30 L335.26,304.30 L334.60,302.30 L333.93,300.30 L333.27,298.30 L332.61,296.30 L331.96,294.30 L331.31,292.30 L330.67,290.30 L330.04,288.30 L329.41,286.30 L328.80,284.30 L328.21,282.30 L327.62,280.30 L327.04,278.30 L326.48,276.30 L325.93,274.30 L325.38,272.30 L324.85,270.30 L324.33,268.30 L323.81,266.30 L323.31,264.30 L322.82,262.30 L322.33,260.30 L321.86,258.30 L321.39,256.30 L320.93,254.30 L320.49,252.30 L320.04,250.30 L319.61,248.30 L319.19,246.30 L318.77,244.30 L318.36,242.30 L317.96,240.30 L317.56,238.30 L317.18,236.30 L316.80,234.30 L316.42,232.30 L316.06,230.30 L315.70,228.30 L315.34,226.30 L315.00,224.30 L314.66,222.30 L314.32,220.30 L314.00,218.30 L313.67,216.30 L313.36,214.30 L313.05,212.30 L312.75,210.30 L312.45,208.30 L312.16,206.30 L311.87,204.30 L311.59,202.30 L311.31,200.30 L311.04,198.30 L310.78,196.30 L310.52,194.30 L310.26,192.30 L310.01,190.30 L309.76,188.30 L309.52,186.30 L309.28,184.30 L309.04,182.30 L308.81,180.30 L308.58,178.30 L308.36,176.30 L308.14,174.30 L307.92,172.30 L307.70,170.30 L307.49,168.30 L307.28,166.30 L307.08,164.30 L306.87,162.30 L306.67,160.30 L306.48,158.30 L306.29,156.30 L306.10,154.30 L305.91,152.30 L305.73,150.30 L305.55,148.30 L305.37,146.30 L305.20,144.30 L305.03,142.30 L304.87,140.30 L304.70,138.30 L304.55,136.30 L304.39,134.30 L304.24,132.30 L304.10,130.30 L303.96,128.30 L303.82,126.30 L303.69,124.30 L303.56,122.30 L303.43,120.30 L303.31,118.30 L303.20,116.30 L303.09,114.30 L302.98,112.30 L302.88,110.30 L302.78,108.30 L302.68,106.30 L302.59,104.30 L302.50,102.30 L302.42,100.30 L302.34,98.30 L302.27,96.30 L302.20,94.30 L302.13,92.30 L302.07,90.30 L302.01,88.30 L301.95,86.30 L301.90,84.30 Z" fill="#B6D497" stroke="#414850" stroke-width="2.1" stroke-linejoin="round"/>
<line x1="259.18" x2="344.62" y1="339.70" y2="339.70" stroke="#414850" stroke-width="2.1" stroke-dasharray="14.15,14.15"/>
<line x1="265.91" x2="337.89" y1="401.50" y2="401.50" stroke="#414850" stroke-width="2.1" stroke-dasharray="28.3,28.3"/>
<line x1="280.74" x2="323.06" y1="525.00" y2="525.00" stroke="#414850" stroke-width="2.1" stroke-dasharray="14.15,14.15"/>
<path d="M454.05,78.60 L454.04,80.60 L454.02,82.60 L454.00,84.60 L453.98,86.60 L453.95,88.60 L453.93,90.60 L453.91,92.60 L453.88,94.60 L453.85,96.60 L453.83,98.60 L453.80,100.60 L453.77,102.60 L453.73,104.60 L453.70,106.60 L453.67,108.60 L453.63,110.60 L453.59,112.60 L453.55,114.60 L453.51,116.60 L453.46,118.60 L453.42,120.60 L453.37,122.60 L453.32,124.60 L453.27,126.60 L453.21,128.60 L453.16,130.60 L453.10,132.60 L453.03,134.60 L452.97,136.60 L452.90,138.60 L452.83,140.60 L452.76,142.60 L452.68,144.60 L452.60,146.60 L452.52,148.60 L452.43,150.60 L452.34,152.60 L452.25,154.60 L452.15,156.60 L452.05,158.60 L451.95,160.60 L451.84,162.60 L451.73,164.60 L451.61,166.60 L451.49,168.60 L451.36,170.60 L451.23,172.60 L451.10,174.60 L450.96,176.60 L450.82,178.60 L450.67,180.60 L450.51,182.60 L450.36,184.60 L450.19,186.60 L450.03,188.60 L449.85,190.60 L449.68,192.60 L449.49,194.60 L449.31,196.60 L449.12,198.60 L448.92,200.60 L448.72,202.60 L448.51,204.60 L448.30,206.60 L448.09,208.60 L447.87,210.60 L447.65,212.60 L447.42,214.60 L447.19,216.60 L446.96,218.60 L446.72,220.60 L446.48,222.60 L446.23,224.60 L445.98,226.60 L445.72,228.60 L445.46,230.60 L445.19,232.60 L444.92,234.60 L444.63,236.60 L444.33,238.60 L444.03,240.60 L443.71,242.60 L443.38,244.60 L443.04,246.60 L442.68,248.60 L442.30,250.60 L441.91,252.60 L441.50,254.60 L441.07,256.60 L440.62,258.60 L440.15,260.60 L439.66,262.60 L439.16,264.60 L438.63,266.60 L438.09,268.60 L437.53,270.60 L436.95,272.60 L436.35,274.60 L435.74,276.60 L435.11,278.60 L434.47,280.60 L433.81,282.60 L433.14,284.60 L432.46,286.60 L431.77,288.60 L431.07,290.60 L430.36,292.60 L429.65,294.60 L428.93,296.60 L428.21,298.60 L427.48,300.60 L426.76,302.60 L426.03,304.60 L425.30,306.60 L424.58,308.60 L423.85,310.60 L423.13,312.60 L422.42,314.60 L421.71,316.60 L421.01,318.60 L420.31,320.60 L419.63,322.60 L418.97,324.60 L418.33,326.60 L417.70,328.60 L417.10,330.60 L416.52,332.60 L415.96,334.60 L415.43,336.60 L414.92,338.60 L414.44,340.60 L413.98,342.60 L413.55,344.60 L413.14,346.60 L412.76,348.60 L412.42,350.60 L412.10,352.60 L411.80,354.60 L411.54,356.60 L411.31,358.60 L411.11,360.60 L410.94,362.60 L410.80,364.60 L410.69,366.60 L410.61,368.60 L410.56,370.60 L410.55,372.60 L410.57,374.60 L410.61,376.60 L410.69,378.60 L410.79,380.60 L410.92,382.60 L411.07,384.60 L411.24,386.60 L411.44,388.60 L411.66,390.60 L411.89,392.60 L412.15,394.60 L412.41,396.60 L412.70,398.60 L413.00,400.60 L413.31,402.60 L413.63,404.60 L413.96,406.60 L414.30,408.60 L414.64,410.60 L414.99,412.60 L415.35,414.60 L415.71,416.60 L416.07,418.60 L416.43,420.60 L416.79,422.60 L417.14,424.60 L417.50,426.60 L417.85,428.60 L418.19,430.60 L418.52,432.60 L418.85,434.60 L419.18,436.60 L419.50,438.60 L419.81,440.60 L420.11,442.60 L420.41,444.60 L420.70,446.60 L420.99,448.60 L421.27,450.60 L421.54,452.60 L421.80,454.60 L422.06,456.60 L422.31,458.60 L422.56,460.60 L422.80,462.60 L423.04,464.60 L423.27,466.60 L423.49,468.60 L423.71,470.60 L423.93,472.60 L424.14,474.60 L424.34,476.60 L424.54,478.60 L424.74,480.60 L424.93,482.60 L425.12,484.60 L425.30,486.60 L425.48,488.60 L425.66,490.60 L425.83,492.60 L426.00,494.60 L426.16,496.60 L426.32,498.60 L426.48,500.60 L426.63,502.60 L426.78,504.60 L426.93,506.60 L427.07,508.60 L427.21,510.60 L427.35,512.60 L427.49,514.60 L427.62,516.60 L427.75,518.60 L427.88,520.60 L428.00,522.60 L428.12,524.60 L428.24,526.60 L428.36,528.60 L428.47,530.60 L428.59,532.60 L428.70,534.60 L428.81,536.60 L428.91,538.60 L429.02,540.60 L429.12,542.60 L429.22,544.60 L429.32,546.60 L429.42,548.60 L429.51,550.60 L429.61,552.60 L429.70,554.60 L429.79,556.60 L429.88,558.60 L429.97,560.60 L430.06,562.60 L430.14,564.60 L430.22,566.60 L430.31,568.60 L430.39,570.60 L430.47,572.60 L430.55,574.60 L430.63,576.60 L430.71,578.60 L430.78,580.60 L430.86,582.60 L430.93,584.60 L431.01,586.60 L431.08,588.60 L431.15,590.60 L431.23,592.60 L431.30,594.60 L431.37,596.60 L431.44,598.60 L431.51,600.60 L431.58,602.60 L431.65,604.60 L431.71,606.60 L431.78,608.60 L431.85,610.60 L431.92,612.60 L431.98,614.60 L432.05,616.60 L432.12,618.60 L432.18,620.60 L432.25,622.60 L432.32,624.60 L432.38,626.60 L432.45,628.60 L432.52,630.60 L432.58,632.60 L432.65,634.60 L432.72,636.60 L432.78,638.60 L432.85,640.60 L432.92,642.60 L432.99,644.60 L433.05,646.60 L433.12,648.60 L433.19,650.60 L433.26,652.60 L433.33,654.60 L433.41,656.60 L433.48,658.60 L433.55,660.60 L433.63,662.60 L433.70,664.60 L433.78,666.60 L433.86,668.60 L433.94,670.60 L434.03,672.60 L434.11,674.60 L434.20,676.60 L434.29,678.60 L434.38,680.60 L434.47,682.60 L434.57,684.60 L434.66,686.60 L434.76,688.60 L434.86,690.60 L434.97,692.60 L435.08,694.60 L435.19,696.60 L435.30,698.60 L435.41,700.60 L435.53,702.60 L435.65,704.60 L435.77,706.60 L435.90,708.60 L436.02,710.60 L436.16,712.60 L436.29,714.60 L436.43,716.60 L436.57,718.60 L436.71,720.60 L436.85,722.60 L437.00,724.60 L437.15,726.60 L437.31,728.60 L437.46,730.60 L437.62,732.60 L437.79,734.60 L437.95,736.60 L438.12,738.60 L438.29,740.60 L438.47,742.60 L438.64,744.60 L438.82,746.60 L439.00,748.60 L439.19,750.60 L439.37,752.60 L439.56,754.60 L439.76,756.60 L439.95,758.60 L440.15,760.60 L440.34,762.60 L440.54,764.60 L440.75,766.60 L440.95,768.60 L441.15,770.60 L441.36,772.60 L441.57,774.60 L441.78,776.60 L441.99,778.60 L442.20,780.60 L442.42,782.60 L442.63,784.60 L442.85,786.60 L443.07,788.60 L443.28,790.60 L443.50,792.60 L443.72,794.60 L443.94,796.60 L444.16,798.60 L444.38,800.60 L444.61,802.60 L444.84,804.60 L445.07,806.60 L445.30,808.60 L445.54,810.60 L445.78,812.60 L446.03,814.60 L446.27,816.60 L446.53,818.60 L446.78,820.60 L447.04,822.60 L447.30,824.60 L447.56,826.60 L447.82,828.60 L448.09,830.60 L448.35,832.60 L448.62,834.60 L448.88,836.60 L449.15,838.60 L449.41,840.60 L449.67,842.60 L449.93,844.60 L450.18,846.60 L450.43,848.60 L450.68,850.60 L450.92,852.60 L451.15,854.60 L451.37,856.60 L451.59,858.60 L451.79,860.60 L451.98,862.60 L452.17,864.60 L452.34,866.60 L452.50,868.60 L452.65,870.60 L452.79,872.60 L452.92,874.60 L453.04,876.60 L453.15,878.60 L453.25,880.60 L453.35,882.60 L453.44,884.60 L453.51,886.60 L453.59,888.60 L453.65,890.60 L453.71,892.60 L453.77,894.60 L453.82,896.60 L453.86,898.60 L453.90,900.60 L453.94,902.60 L453.97,904.60 L454.00,906.60 L454.03,908.60 L454.05,910.60 L454.05,911.80 L454.05,911.80 L454.05,910.60 L454.07,908.60 L454.10,906.60 L454.13,904.60 L454.16,902.60 L454.20,900.60 L454.24,898.60 L454.28,896.60 L454.33,894.60 L454.39,892.60 L454.45,890.60 L454.51,888.60 L454.59,886.60 L454.66,884.60 L454.75,882.60 L454.85,880.60 L454.95,878.60 L455.06,876.60 L455.18,874.60 L455.31,872.60 L455.45,870.60 L455.60,868.60 L455.76,866.60 L455.93,864.60 L456.12,862.60 L456.31,860.60 L456.51,858.60 L456.73,856.60 L456.95,854.60 L457.18,852.60 L457.42,850.60 L457.67,848.60 L457.92,846.60 L458.17,844.60 L458.43,842.60 L458.69,840.60 L458.95,838.60 L459.22,836.60 L459.48,834.60 L459.75,832.60 L460.01,830.60 L460.28,828.60 L460.54,826.60 L460.80,824.60 L461.06,822.60 L461.32,820.60 L461.57,818.60 L461.83,816.60 L462.07,814.60 L462.32,812.60 L462.56,810.60 L462.80,808.60 L463.03,806.60 L463.26,804.60 L463.49,802.60 L463.72,800.60 L463.94,798.60 L464.16,796.60 L464.38,794.60 L464.60,792.60 L464.82,790.60 L465.03,788.60 L465.25,786.60 L465.47,784.60 L465.68,782.60 L465.90,780.60 L466.11,778.60 L466.32,776.60 L466.53,774.60 L466.74,772.60 L466.95,770.60 L467.15,768.60 L467.35,766.60 L467.56,764.60 L467.76,762.60 L467.95,760.60 L468.15,758.60 L468.34,756.60 L468.54,754.60 L468.73,752.60 L468.91,750.60 L469.10,748.60 L469.28,746.60 L469.46,744.60 L469.63,742.60 L469.81,740.60 L469.98,738.60 L470.15,736.60 L470.31,734.60 L470.48,732.60 L470.64,730.60 L470.79,728.60 L470.95,726.60 L471.10,724.60 L471.25,722.60 L471.39,720.60 L471.53,718.60 L471.67,716.60 L471.81,714.60 L471.94,712.60 L472.08,710.60 L472.20,708.60 L472.33,706.60 L472.45,704.60 L472.57,702.60 L472.69,700.60 L472.80,698.60 L472.91,696.60 L473.02,694.60 L473.13,692.60 L473.24,690.60 L473.34,688.60 L473.44,686.60 L473.53,684.60 L473.63,682.60 L473.72,680.60 L473.81,678.60 L473.90,676.60 L473.99,674.60 L474.07,672.60 L474.16,670.60 L474.24,668.60 L474.32,666.60 L474.40,664.60 L474.47,662.60 L474.55,660.60 L474.62,658.60 L474.69,656.60 L474.77,654.60 L474.84,652.60 L474.91,650.60 L474.98,648.60 L475.05,646.60 L475.11,644.60 L475.18,642.60 L475.25,640.60 L475.32,638.60 L475.38,636.60 L475.45,634.60 L475.52,632.60 L475.58,630.60 L475.65,628.60 L475.72,626.60 L475.78,624.60 L475.85,622.60 L475.92,620.60 L475.98,618.60 L476.05,616.60 L476.12,614.60 L476.18,612.60 L476.25,610.60 L476.32,608.60 L476.39,606.60 L476.45,604.60 L476.52,602.60 L476.59,600.60 L476.66,598.60 L476.73,596.60 L476.80,594.60 L476.87,592.60 L476.95,590.60 L477.02,588.60 L477.09,586.60 L477.17,584.60 L477.24,582.60 L477.32,580.60 L477.39,578.60 L477.47,576.60 L477.55,574.60 L477.63,572.60 L477.71,570.60 L477.79,568.60 L477.88,566.60 L477.96,564.60 L478.04,562.60 L478.13,560.60 L478.22,558.60 L478.31,556.60 L478.40,554.60 L478.49,552.60 L478.59,550.60 L478.68,548.60 L478.78,546.60 L478.88,544.60 L478.98,542.60 L479.08,540.60 L479.19,538.60 L479.29,536.60 L479.40,534.60 L479.51,532.60 L479.63,530.60 L479.74,528.60 L479.86,526.60 L479.98,524.60 L480.10,522.60 L480.22,520.60 L480.35,518.60 L480.48,516.60 L480.61,514.60 L480.75,512.60 L480.89,510.60 L481.03,508.60 L481.17,506.60 L481.32,504.60 L481.47,502.60 L481.62,500.60 L481.78,498.60 L481.94,496.60 L482.10,494.60 L482.27,492.60 L482.44,490.60 L482.62,488.60 L482.80,486.60 L482.98,484.60 L483.17,482.60 L483.36,480.60 L483.56,478.60 L483.76,476.60 L483.96,474.60 L484.17,472.60 L484.39,470.60 L484.61,468.60 L484.83,466.60 L485.06,464.60 L485.30,462.60 L485.54,460.60 L485.79,458.60 L486.04,456.60 L486.30,454.60 L486.56,452.60 L486.83,450.60 L487.11,448.60 L487.40,446.60 L487.69,444.60 L487.99,442.60 L488.29,440.60 L488.60,438.60 L488.92,436.60 L489.25,434.60 L489.58,432.60 L489.91,430.60 L490.25,428.60 L490.60,426.60 L490.96,424.60 L491.31,422.60 L491.67,420.60 L492.03,418.60 L492.39,416.60 L492.75,414.60 L493.11,412.60 L493.46,410.60 L493.80,408.60 L494.14,406.60 L494.47,404.60 L494.79,402.60 L495.10,400.60 L495.40,398.60 L495.69,396.60 L495.95,394.60 L496.21,392.60 L496.44,390.60 L496.66,388.60 L496.86,386.60 L497.03,384.60 L497.18,382.60 L497.31,380.60 L497.41,378.60 L497.49,376.60 L497.53,374.60 L497.55,372.60 L497.54,370.60 L497.49,368.60 L497.41,366.60 L497.30,364.60 L497.16,362.60 L496.99,360.60 L496.79,358.60 L496.56,356.60 L496.30,354.60 L496.00,352.60 L495.68,350.60 L495.34,348.60 L494.96,346.60 L494.55,344.60 L494.12,342.60 L493.66,340.60 L493.18,338.60 L492.67,336.60 L492.14,334.60 L491.58,332.60 L491.00,330.60 L490.40,328.60 L489.77,326.60 L489.13,324.60 L488.47,322.60 L487.79,320.60 L487.09,318.60 L486.39,316.60 L485.68,314.60 L484.97,312.60 L484.25,310.60 L483.52,308.60 L482.80,306.60 L482.07,304.60 L481.34,302.60 L480.62,300.60 L479.89,298.60 L479.17,296.60 L478.45,294.60 L477.74,292.60 L477.03,290.60 L476.33,288.60 L475.64,286.60 L474.96,284.60 L474.29,282.60 L473.63,280.60 L472.99,278.60 L472.36,276.60 L471.75,274.60 L471.15,272.60 L470.57,270.60 L470.01,268.60 L469.47,266.60 L468.94,264.60 L468.44,262.60 L467.95,260.60 L467.48,258.60 L467.03,256.60 L466.60,254.60 L466.19,252.60 L465.80,250.60 L465.42,248.60 L465.06,246.60 L464.72,244.60 L464.39,242.60 L464.07,240.60 L463.77,238.60 L463.47,236.60 L463.18,234.60 L462.91,232.60 L462.64,230.60 L462.38,228.60 L462.12,226.60 L461.87,224.60 L461.62,222.60 L461.38,220.60 L461.14,218.60 L460.91,216.60 L460.68,214.60 L460.45,212.60 L460.23,210.60 L460.01,208.60 L459.80,206.60 L459.59,204.60 L459.38,202.60 L459.18,200.60 L458.98,198.60 L458.79,196.60 L458.61,194.60 L458.42,192.60 L458.25,190.60 L458.07,188.60 L457.91,186.60 L457.74,184.60 L457.59,182.60 L457.43,180.60 L457.28,178.60 L457.14,176.60 L457.00,174.60 L456.87,172.60 L456.74,170.60 L456.61,168.60 L456.49,166.60 L456.37,164.60 L456.26,162.60 L456.15,160.60 L456.05,158.60 L455.95,156.60 L455.85,154.60 L455.76,152.60 L455.67,150.60 L455.58,148.60 L455.50,146.60 L455.42,144.60 L455.34,142.60 L455.27,140.60 L455.20,138.60 L455.13,136.60 L455.07,134.60 L455.00,132.60 L454.94,130.60 L454.89,128.60 L454.83,126.60 L454.78,124.60 L454.73,122.60 L454.68,120.60 L454.64,118.60 L454.59,116.60 L454.55,114.60 L454.51,112.60 L454.47,110.60 L454.43,108.60 L454.40,106.60 L454.37,104.60 L454.33,102.60 L454.30,100.60 L454.27,98.60 L454.25,96.60 L454.22,94.60 L454.19,92.60 L454.17,90.60 L454.15,88.60 L454.12,86.60 L454.10,84.60 L454.08,82.60 L454.06,80.60 L454.05,78.60 Z" fill="#B3CCDB" stroke="#414850" stroke-width="2.1" stroke-linejoin="round"/>
<line x1="410.56" x2="497.54" y1="370.90" y2="370.90" stroke="#414850" stroke-width="2.1" stroke-dasharray="14.15,14.15"/>
<line x1="422.91" x2="485.19" y1="463.50" y2="463.50" stroke="#414850" stroke-width="2.1" stroke-dasharray="28.3,28.3"/>
<line x1="431.86" x2="476.24" y1="610.80" y2="610.80" stroke="#414850" stroke-width="2.1" stroke-dasharray="14.15,14.15"/>
<path d="M541.30,111.50 L541.30,113.50 L541.30,115.50 L541.30,117.50 L541.30,119.50 L541.30,121.50 L541.30,123.50 L541.30,125.50 L541.30,127.50 L541.30,129.50 L541.28,131.50 L541.27,133.50 L541.25,135.50 L541.23,137.50 L541.20,139.50 L541.17,141.50 L541.14,143.50 L541.11,145.50 L541.07,147.50 L541.02,149.50 L540.98,151.50 L540.92,153.50 L540.87,155.50 L540.81,157.50 L540.74,159.50 L540.67,161.50 L540.59,163.50 L540.50,165.50 L540.41,167.50 L540.31,169.50 L540.21,171.50 L540.09,173.50 L539.97,175.50 L539.84,177.50 L539.70,179.50 L539.56,181.50 L539.40,183.50 L539.24,185.50 L539.07,187.50 L538.89,189.50 L538.71,191.50 L538.52,193.50 L538.32,195.50 L538.12,197.50 L537.91,199.50 L537.71,201.50 L537.50,203.50 L537.29,205.50 L537.08,207.50 L536.88,209.50 L536.67,211.50 L536.47,213.50 L536.26,215.50 L536.05,217.50 L535.84,219.50 L535.62,221.50 L535.40,223.50 L535.18,225.50 L534.94,227.50 L534.69,229.50 L534.43,231.50 L534.16,233.50 L533.87,235.50 L533.56,237.50 L533.23,239.50 L532.89,241.50 L532.53,243.50 L532.15,245.50 L531.75,247.50 L531.33,249.50 L530.89,251.50 L530.42,253.50 L529.94,255.50 L529.43,257.50 L528.90,259.50 L528.34,261.50 L527.76,263.50 L527.16,265.50 L526.53,267.50 L525.88,269.50 L525.20,271.50 L524.50,273.50 L523.78,275.50 L523.03,277.50 L522.26,279.50 L521.46,281.50 L520.65,283.50 L519.81,285.50 L518.95,287.50 L518.08,289.50 L517.19,291.50 L516.29,293.50 L515.38,295.50 L514.45,297.50 L513.52,299.50 L512.59,301.50 L511.66,303.50 L510.73,305.50 L509.81,307.50 L508.89,309.50 L508.00,311.50 L507.12,313.50 L506.27,315.50 L505.44,317.50 L504.64,319.50 L503.87,321.50 L503.14,323.50 L502.44,325.50 L501.79,327.50 L501.17,329.50 L500.61,331.50 L500.08,333.50 L499.61,335.50 L499.19,337.50 L498.82,339.50 L498.51,341.50 L498.25,343.50 L498.05,345.50 L497.91,347.50 L497.82,349.50 L497.80,351.50 L497.84,353.50 L497.94,355.50 L498.10,357.50 L498.32,359.50 L498.60,361.50 L498.94,363.50 L499.33,365.50 L499.79,367.50 L500.30,369.50 L500.86,371.50 L501.48,373.50 L502.14,375.50 L502.85,377.50 L503.60,379.50 L504.39,381.50 L505.21,383.50 L506.05,385.50 L506.90,387.50 L507.78,389.50 L508.66,391.50 L509.54,393.50 L510.43,395.50 L511.31,397.50 L512.19,399.50 L513.06,401.50 L513.91,403.50 L514.75,405.50 L515.57,407.50 L516.37,409.50 L517.15,411.50 L517.91,413.50 L518.65,415.50 L519.36,417.50 L520.04,419.50 L520.70,421.50 L521.34,423.50 L521.95,425.50 L522.53,427.50 L523.08,429.50 L523.61,431.50 L524.11,433.50 L524.58,435.50 L525.03,437.50 L525.46,439.50 L525.87,441.50 L526.25,443.50 L526.62,445.50 L526.97,447.50 L527.31,449.50 L527.63,451.50 L527.93,453.50 L528.22,455.50 L528.49,457.50 L528.76,459.50 L529.01,461.50 L529.25,463.50 L529.48,465.50 L529.70,467.50 L529.91,469.50 L530.11,471.50 L530.30,473.50 L530.49,475.50 L530.67,477.50 L530.84,479.50 L531.00,481.50 L531.15,483.50 L531.30,485.50 L531.45,487.50 L531.59,489.50 L531.72,491.50 L531.85,493.50 L531.97,495.50 L532.09,497.50 L532.21,499.50 L532.32,501.50 L532.42,503.50 L532.53,505.50 L532.63,507.50 L532.73,509.50 L532.82,511.50 L532.91,513.50 L533.00,515.50 L533.09,517.50 L533.17,519.50 L533.25,521.50 L533.33,523.50 L533.41,525.50 L533.49,527.50 L533.56,529.50 L533.63,531.50 L533.71,533.50 L533.78,535.50 L533.85,537.50 L533.92,539.50 L533.98,541.50 L534.05,543.50 L534.12,545.50 L534.18,547.50 L534.25,549.50 L534.31,551.50 L534.38,553.50 L534.44,555.50 L534.51,557.50 L534.57,559.50 L534.64,561.50 L534.70,563.50 L534.77,565.50 L534.84,567.50 L534.90,569.50 L534.97,571.50 L535.03,573.50 L535.10,575.50 L535.17,577.50 L535.24,579.50 L535.31,581.50 L535.38,583.50 L535.45,585.50 L535.52,587.50 L535.59,589.50 L535.66,591.50 L535.73,593.50 L535.80,595.50 L535.88,597.50 L535.95,599.50 L536.02,601.50 L536.09,603.50 L536.15,605.50 L536.22,607.50 L536.29,609.50 L536.35,611.50 L536.42,613.50 L536.48,615.50 L536.54,617.50 L536.60,619.50 L536.66,621.50 L536.72,623.50 L536.77,625.50 L536.83,627.50 L536.88,629.50 L536.93,631.50 L536.98,633.50 L537.02,635.50 L537.07,637.50 L537.11,639.50 L537.15,641.50 L537.19,643.50 L537.22,645.50 L537.26,647.50 L537.29,649.50 L537.32,651.50 L537.34,653.50 L537.37,655.50 L537.39,657.50 L537.41,659.50 L537.43,661.50 L537.45,663.50 L537.47,665.50 L537.49,667.50 L537.51,669.50 L537.53,671.50 L537.55,673.50 L537.57,675.50 L537.59,677.50 L537.61,679.50 L537.63,681.50 L537.66,683.50 L537.68,685.50 L537.71,687.50 L537.74,689.50 L537.77,691.50 L537.80,693.50 L537.84,695.50 L537.88,697.50 L537.92,699.50 L537.97,701.50 L538.01,703.50 L538.06,705.50 L538.12,707.50 L538.17,709.50 L538.23,711.50 L538.29,713.50 L538.34,715.50 L538.41,717.50 L538.47,719.50 L538.53,721.50 L538.59,723.50 L538.66,725.50 L538.72,727.50 L538.78,729.50 L538.85,731.50 L538.91,733.50 L538.98,735.50 L539.04,737.50 L539.10,739.50 L539.17,741.50 L539.23,743.50 L539.29,745.50 L539.35,747.50 L539.41,749.50 L539.46,751.50 L539.52,753.50 L539.58,755.50 L539.63,757.50 L539.68,759.50 L539.74,761.50 L539.79,763.50 L539.84,765.50 L539.89,767.50 L539.93,769.50 L539.98,771.50 L540.02,773.50 L540.07,775.50 L540.11,777.50 L540.15,779.50 L540.19,781.50 L540.23,783.50 L540.27,785.50 L540.31,787.50 L540.34,789.50 L540.38,791.50 L540.41,793.50 L540.45,795.50 L540.48,797.50 L540.51,799.50 L540.54,801.50 L540.57,803.50 L540.60,805.50 L540.63,807.50 L540.66,809.50 L540.68,811.50 L540.71,813.50 L540.74,815.50 L540.76,817.50 L540.78,819.50 L540.81,821.50 L540.83,823.50 L540.85,825.50 L540.87,827.50 L540.89,829.50 L540.91,831.50 L540.93,833.50 L540.95,835.50 L540.97,837.50 L540.99,839.50 L541.00,841.50 L541.02,843.50 L541.04,845.50 L541.05,847.50 L541.07,849.50 L541.08,851.50 L541.10,853.50 L541.11,855.50 L541.12,857.50 L541.14,859.50 L541.15,861.50 L541.16,863.50 L541.17,865.50 L541.18,867.50 L541.19,869.50 L541.21,871.50 L541.22,873.50 L541.22,875.50 L541.23,877.50 L541.24,879.50 L541.25,881.50 L541.26,883.50 L541.27,885.50 L541.28,887.50 L541.28,889.50 L541.29,891.50 L541.30,893.50 L541.30,894.50 L541.30,894.50 L541.30,893.50 L541.31,891.50 L541.32,889.50 L541.32,887.50 L541.33,885.50 L541.34,883.50 L541.35,881.50 L541.36,879.50 L541.37,877.50 L541.38,875.50 L541.38,873.50 L541.39,871.50 L541.41,869.50 L541.42,867.50 L541.43,865.50 L541.44,863.50 L541.45,861.50 L541.46,859.50 L541.48,857.50 L541.49,855.50 L541.50,853.50 L541.52,851.50 L541.53,849.50 L541.55,847.50 L541.56,845.50 L541.58,843.50 L541.60,841.50 L541.61,839.50 L541.63,837.50 L541.65,835.50 L541.67,833.50 L541.69,831.50 L541.71,829.50 L541.73,827.50 L541.75,825.50 L541.77,823.50 L541.79,821.50 L541.82,819.50 L541.84,817.50 L541.86,815.50 L541.89,813.50 L541.92,811.50 L541.94,809.50 L541.97,807.50 L542.00,805.50 L542.03,803.50 L542.06,801.50 L542.09,799.50 L542.12,797.50 L542.15,795.50 L542.19,793.50 L542.22,791.50 L542.26,789.50 L542.29,787.50 L542.33,785.50 L542.37,783.50 L542.41,781.50 L542.45,779.50 L542.49,777.50 L542.53,775.50 L542.58,773.50 L542.62,771.50 L542.67,769.50 L542.71,767.50 L542.76,765.50 L542.81,763.50 L542.86,761.50 L542.92,759.50 L542.97,757.50 L543.02,755.50 L543.08,753.50 L543.14,751.50 L543.19,749.50 L543.25,747.50 L543.31,745.50 L543.37,743.50 L543.43,741.50 L543.50,739.50 L543.56,737.50 L543.62,735.50 L543.69,733.50 L543.75,731.50 L543.82,729.50 L543.88,727.50 L543.94,725.50 L544.01,723.50 L544.07,721.50 L544.13,719.50 L544.19,717.50 L544.26,715.50 L544.31,713.50 L544.37,711.50 L544.43,709.50 L544.48,707.50 L544.54,705.50 L544.59,703.50 L544.63,701.50 L544.68,699.50 L544.72,697.50 L544.76,695.50 L544.80,693.50 L544.83,691.50 L544.86,689.50 L544.89,687.50 L544.92,685.50 L544.94,683.50 L544.97,681.50 L544.99,679.50 L545.01,677.50 L545.03,675.50 L545.05,673.50 L545.07,671.50 L545.09,669.50 L545.11,667.50 L545.13,665.50 L545.15,663.50 L545.17,661.50 L545.19,659.50 L545.21,657.50 L545.23,655.50 L545.26,653.50 L545.28,651.50 L545.31,649.50 L545.34,647.50 L545.38,645.50 L545.41,643.50 L545.45,641.50 L545.49,639.50 L545.53,637.50 L545.58,635.50 L545.62,633.50 L545.67,631.50 L545.72,629.50 L545.77,627.50 L545.83,625.50 L545.88,623.50 L545.94,621.50 L546.00,619.50 L546.06,617.50 L546.12,615.50 L546.18,613.50 L546.25,611.50 L546.31,609.50 L546.38,607.50 L546.45,605.50 L546.51,603.50 L546.58,601.50 L546.65,599.50 L546.72,597.50 L546.80,595.50 L546.87,593.50 L546.94,591.50 L547.01,589.50 L547.08,587.50 L547.15,585.50 L547.22,583.50 L547.29,581.50 L547.36,579.50 L547.43,577.50 L547.50,575.50 L547.57,573.50 L547.63,571.50 L547.70,569.50 L547.76,567.50 L547.83,565.50 L547.90,563.50 L547.96,561.50 L548.03,559.50 L548.09,557.50 L548.16,555.50 L548.22,553.50 L548.29,551.50 L548.35,549.50 L548.42,547.50 L548.48,545.50 L548.55,543.50 L548.62,541.50 L548.68,539.50 L548.75,537.50 L548.82,535.50 L548.89,533.50 L548.97,531.50 L549.04,529.50 L549.11,527.50 L549.19,525.50 L549.27,523.50 L549.35,521.50 L549.43,519.50 L549.51,517.50 L549.60,515.50 L549.69,513.50 L549.78,511.50 L549.87,509.50 L549.97,507.50 L550.07,505.50 L550.18,503.50 L550.28,501.50 L550.39,499.50 L550.51,497.50 L550.63,495.50 L550.75,493.50 L550.88,491.50 L551.01,489.50 L551.15,487.50 L551.30,485.50 L551.45,483.50 L551.60,481.50 L551.76,479.50 L551.93,477.50 L552.11,475.50 L552.30,473.50 L552.49,471.50 L552.69,469.50 L552.90,467.50 L553.12,465.50 L553.35,463.50 L553.59,461.50 L553.84,459.50 L554.11,457.50 L554.38,455.50 L554.67,453.50 L554.97,451.50 L555.29,449.50 L555.63,447.50 L555.98,445.50 L556.35,443.50 L556.73,441.50 L557.14,439.50 L557.57,437.50 L558.02,435.50 L558.49,433.50 L558.99,431.50 L559.52,429.50 L560.07,427.50 L560.65,425.50 L561.26,423.50 L561.90,421.50 L562.56,419.50 L563.24,417.50 L563.95,415.50 L564.69,413.50 L565.45,411.50 L566.23,409.50 L567.03,407.50 L567.85,405.50 L568.69,403.50 L569.54,401.50 L570.41,399.50 L571.29,397.50 L572.17,395.50 L573.06,393.50 L573.94,391.50 L574.82,389.50 L575.70,387.50 L576.55,385.50 L577.39,383.50 L578.21,381.50 L579.00,379.50 L579.75,377.50 L580.46,375.50 L581.12,373.50 L581.74,371.50 L582.30,369.50 L582.81,367.50 L583.27,365.50 L583.66,363.50 L584.00,361.50 L584.28,359.50 L584.50,357.50 L584.66,355.50 L584.76,353.50 L584.80,351.50 L584.78,349.50 L584.69,347.50 L584.55,345.50 L584.35,343.50 L584.09,341.50 L583.78,339.50 L583.41,337.50 L582.99,335.50 L582.52,333.50 L581.99,331.50 L581.43,329.50 L580.81,327.50 L580.16,325.50 L579.46,323.50 L578.73,321.50 L577.96,319.50 L577.16,317.50 L576.33,315.50 L575.48,313.50 L574.60,311.50 L573.71,309.50 L572.79,307.50 L571.87,305.50 L570.94,303.50 L570.01,301.50 L569.08,299.50 L568.15,297.50 L567.22,295.50 L566.31,293.50 L565.41,291.50 L564.52,289.50 L563.65,287.50 L562.79,285.50 L561.95,283.50 L561.14,281.50 L560.34,279.50 L559.57,277.50 L558.82,275.50 L558.10,273.50 L557.40,271.50 L556.72,269.50 L556.07,267.50 L555.44,265.50 L554.84,263.50 L554.26,261.50 L553.70,259.50 L553.17,257.50 L552.66,255.50 L552.18,253.50 L551.71,251.50 L551.27,249.50 L550.85,247.50 L550.45,245.50 L550.07,243.50 L549.71,241.50 L549.37,239.50 L549.04,237.50 L548.73,235.50 L548.44,233.50 L548.17,231.50 L547.91,229.50 L547.66,227.50 L547.42,225.50 L547.20,223.50 L546.98,221.50 L546.76,219.50 L546.55,217.50 L546.34,215.50 L546.13,213.50 L545.93,211.50 L545.72,209.50 L545.52,207.50 L545.31,205.50 L545.10,203.50 L544.89,201.50 L544.69,199.50 L544.48,197.50 L544.28,195.50 L544.08,193.50 L543.89,191.50 L543.71,189.50 L543.53,187.50 L543.36,185.50 L543.20,183.50 L543.04,181.50 L542.90,179.50 L542.76,177.50 L542.63,175.50 L542.51,173.50 L542.39,171.50 L542.29,169.50 L542.19,167.50 L542.10,165.50 L542.01,163.50 L541.93,161.50 L541.86,159.50 L541.79,157.50 L541.73,155.50 L541.68,153.50 L541.62,151.50 L541.58,149.50 L541.53,147.50 L541.49,145.50 L541.46,143.50 L541.43,141.50 L541.40,139.50 L541.37,137.50 L541.35,135.50 L541.33,133.50 L541.32,131.50 L541.30,129.50 L541.30,127.50 L541.30,125.50 L541.30,123.50 L541.30,121.50 L541.30,119.50 L541.30,117.50 L541.30,115.50 L541.30,113.50 L541.30,111.50 Z" fill="#44729F" stroke="#414850" stroke-width="2.1" stroke-linejoin="round"/>
<line x1="502.79" x2="579.81" y1="324.50" y2="324.50" stroke="#414850" stroke-width="2.1" stroke-dasharray="14.15,14.15"/>
<line x1="500.69" x2="581.91" y1="370.90" y2="370.90" stroke="#414850" stroke-width="2.1" stroke-dasharray="28.3,28.3"/>
<line x1="523.96" x2="558.64" y1="432.90" y2="432.90" stroke="#414850" stroke-width="2.1" stroke-dasharray="14.15,14.15"/>
<path d="M628.20,115.80 L628.11,117.80 L628.02,119.80 L627.92,121.80 L627.81,123.80 L627.70,125.80 L627.58,127.80 L627.44,129.80 L627.30,131.80 L627.15,133.80 L626.99,135.80 L626.83,137.80 L626.65,139.80 L626.47,141.80 L626.28,143.80 L626.08,145.80 L625.87,147.80 L625.66,149.80 L625.44,151.80 L625.22,153.80 L624.99,155.80 L624.75,157.80 L624.52,159.80 L624.28,161.80 L624.03,163.80 L623.79,165.80 L623.55,167.80 L623.30,169.80 L623.05,171.80 L622.81,173.80 L622.57,175.80 L622.32,177.80 L622.08,179.80 L621.85,181.80 L621.61,183.80 L621.38,185.80 L621.15,187.80 L620.92,189.80 L620.70,191.80 L620.48,193.80 L620.26,195.80 L620.05,197.80 L619.84,199.80 L619.63,201.80 L619.42,203.80 L619.22,205.80 L619.01,207.80 L618.81,209.80 L618.61,211.80 L618.40,213.80 L618.20,215.80 L617.99,217.80 L617.78,219.80 L617.57,221.80 L617.35,223.80 L617.13,225.80 L616.90,227.80 L616.67,229.80 L616.44,231.80 L616.20,233.80 L615.95,235.80 L615.70,237.80 L615.44,239.80 L615.17,241.80 L614.90,243.80 L614.61,245.80 L614.32,247.80 L614.02,249.80 L613.70,251.80 L613.38,253.80 L613.04,255.80 L612.69,257.80 L612.33,259.80 L611.95,261.80 L611.56,263.80 L611.15,265.80 L610.72,267.80 L610.27,269.80 L609.80,271.80 L609.31,273.80 L608.80,275.80 L608.26,277.80 L607.70,279.80 L607.10,281.80 L606.48,283.80 L605.82,285.80 L605.13,287.80 L604.41,289.80 L603.65,291.80 L602.87,293.80 L602.07,295.80 L601.23,297.80 L600.38,299.80 L599.51,301.80 L598.62,303.80 L597.72,305.80 L596.81,307.80 L595.89,309.80 L594.98,311.80 L594.08,313.80 L593.19,315.80 L592.33,317.80 L591.50,319.80 L590.70,321.80 L589.95,323.80 L589.23,325.80 L588.56,327.80 L587.94,329.80 L587.37,331.80 L586.84,333.80 L586.38,335.80 L585.97,337.80 L585.61,339.80 L585.32,341.80 L585.09,343.80 L584.91,345.80 L584.79,347.80 L584.72,349.80 L584.70,351.80 L584.73,353.80 L584.80,355.80 L584.92,357.80 L585.07,359.80 L585.26,361.80 L585.49,363.80 L585.75,365.80 L586.03,367.80 L586.34,369.80 L586.67,371.80 L587.02,373.80 L587.39,375.80 L587.77,377.80 L588.18,379.80 L588.59,381.80 L589.02,383.80 L589.46,385.80 L589.91,387.80 L590.37,389.80 L590.83,391.80 L591.30,393.80 L591.78,395.80 L592.25,397.80 L592.73,399.80 L593.21,401.80 L593.69,403.80 L594.16,405.80 L594.64,407.80 L595.10,409.80 L595.56,411.80 L596.02,413.80 L596.46,415.80 L596.90,417.80 L597.33,419.80 L597.75,421.80 L598.15,423.80 L598.55,425.80 L598.93,427.80 L599.30,429.80 L599.66,431.80 L600.00,433.80 L600.34,435.80 L600.65,437.80 L600.95,439.80 L601.24,441.80 L601.51,443.80 L601.78,445.80 L602.02,447.80 L602.26,449.80 L602.49,451.80 L602.71,453.80 L602.91,455.80 L603.11,457.80 L603.30,459.80 L603.48,461.80 L603.66,463.80 L603.82,465.80 L603.98,467.80 L604.13,469.80 L604.28,471.80 L604.42,473.80 L604.56,475.80 L604.69,477.80 L604.82,479.80 L604.94,481.80 L605.06,483.80 L605.18,485.80 L605.30,487.80 L605.41,489.80 L605.52,491.80 L605.62,493.80 L605.73,495.80 L605.84,497.80 L605.94,499.80 L606.04,501.80 L606.14,503.80 L606.25,505.80 L606.35,507.80 L606.45,509.80 L606.56,511.80 L606.66,513.80 L606.77,515.80 L606.88,517.80 L606.99,519.80 L607.10,521.80 L607.22,523.80 L607.33,525.80 L607.45,527.80 L607.58,529.80 L607.70,531.80 L607.83,533.80 L607.96,535.80 L608.10,537.80 L608.24,539.80 L608.38,541.80 L608.52,543.80 L608.67,545.80 L608.82,547.80 L608.97,549.80 L609.13,551.80 L609.28,553.80 L609.44,555.80 L609.60,557.80 L609.76,559.80 L609.92,561.80 L610.08,563.80 L610.24,565.80 L610.41,567.80 L610.57,569.80 L610.74,571.80 L610.90,573.80 L611.07,575.80 L611.23,577.80 L611.40,579.80 L611.56,581.80 L611.73,583.80 L611.89,585.80 L612.06,587.80 L612.22,589.80 L612.39,591.80 L612.55,593.80 L612.71,595.80 L612.87,597.80 L613.03,599.80 L613.19,601.80 L613.35,603.80 L613.51,605.80 L613.66,607.80 L613.82,609.80 L613.97,611.80 L614.12,613.80 L614.27,615.80 L614.42,617.80 L614.57,619.80 L614.71,621.80 L614.85,623.80 L615.00,625.80 L615.14,627.80 L615.27,629.80 L615.41,631.80 L615.54,633.80 L615.67,635.80 L615.80,637.80 L615.93,639.80 L616.06,641.80 L616.18,643.80 L616.30,645.80 L616.42,647.80 L616.54,649.80 L616.66,651.80 L616.77,653.80 L616.88,655.80 L616.99,657.80 L617.10,659.80 L617.21,661.80 L617.31,663.80 L617.42,665.80 L617.52,667.80 L617.62,669.80 L617.72,671.80 L617.82,673.80 L617.92,675.80 L618.01,677.80 L618.11,679.80 L618.20,681.80 L618.29,683.80 L618.39,685.80 L618.48,687.80 L618.57,689.80 L618.66,691.80 L618.75,693.80 L618.83,695.80 L618.92,697.80 L619.01,699.80 L619.09,701.80 L619.18,703.80 L619.27,705.80 L619.35,707.80 L619.44,709.80 L619.52,711.80 L619.60,713.80 L619.69,715.80 L619.77,717.80 L619.85,719.80 L619.93,721.80 L620.02,723.80 L620.10,725.80 L620.18,727.80 L620.26,729.80 L620.34,731.80 L620.42,733.80 L620.50,735.80 L620.58,737.80 L620.67,739.80 L620.75,741.80 L620.83,743.80 L620.91,745.80 L620.99,747.80 L621.07,749.80 L621.15,751.80 L621.23,753.80 L621.31,755.80 L621.39,757.80 L621.47,759.80 L621.55,761.80 L621.63,763.80 L621.71,765.80 L621.80,767.80 L621.88,769.80 L621.97,771.80 L622.06,773.80 L622.15,775.80 L622.24,777.80 L622.33,779.80 L622.43,781.80 L622.53,783.80 L622.64,785.80 L622.75,787.80 L622.86,789.80 L622.97,791.80 L623.09,793.80 L623.21,795.80 L623.34,797.80 L623.47,799.80 L623.60,801.80 L623.74,803.80 L623.88,805.80 L624.02,807.80 L624.16,809.80 L624.31,811.80 L624.46,813.80 L624.61,815.80 L624.76,817.80 L624.92,819.80 L625.07,821.80 L625.23,823.80 L625.38,825.80 L625.54,827.80 L625.69,829.80 L625.84,831.80 L625.99,833.80 L626.14,835.80 L626.29,837.80 L626.43,839.80 L626.58,841.80 L626.71,843.80 L626.85,845.80 L626.98,847.80 L627.10,849.80 L627.23,851.80 L627.34,853.80 L627.45,855.80 L627.56,857.80 L627.66,859.80 L627.76,861.80 L627.85,863.80 L627.93,865.80 L628.01,867.80 L628.09,869.80 L628.16,871.80 L628.20,873.00 L628.20,873.00 L628.24,871.80 L628.31,869.80 L628.39,867.80 L628.47,865.80 L628.55,863.80 L628.64,861.80 L628.74,859.80 L628.84,857.80 L628.95,855.80 L629.06,853.80 L629.17,851.80 L629.30,849.80 L629.42,847.80 L629.55,845.80 L629.69,843.80 L629.82,841.80 L629.97,839.80 L630.11,837.80 L630.26,835.80 L630.41,833.80 L630.56,831.80 L630.71,829.80 L630.86,827.80 L631.02,825.80 L631.17,823.80 L631.33,821.80 L631.48,819.80 L631.64,817.80 L631.79,815.80 L631.94,813.80 L632.09,811.80 L632.24,809.80 L632.38,807.80 L632.52,805.80 L632.66,803.80 L632.80,801.80 L632.93,799.80 L633.06,797.80 L633.19,795.80 L633.31,793.80 L633.43,791.80 L633.54,789.80 L633.65,787.80 L633.76,785.80 L633.87,783.80 L633.97,781.80 L634.07,779.80 L634.16,777.80 L634.25,775.80 L634.34,773.80 L634.43,771.80 L634.52,769.80 L634.60,767.80 L634.69,765.80 L634.77,763.80 L634.85,761.80 L634.93,759.80 L635.01,757.80 L635.09,755.80 L635.17,753.80 L635.25,751.80 L635.33,749.80 L635.41,747.80 L635.49,745.80 L635.57,743.80 L635.65,741.80 L635.73,739.80 L635.82,737.80 L635.90,735.80 L635.98,733.80 L636.06,731.80 L636.14,729.80 L636.22,727.80 L636.30,725.80 L636.38,723.80 L636.47,721.80 L636.55,719.80 L636.63,717.80 L636.71,715.80 L636.80,713.80 L636.88,711.80 L636.96,709.80 L637.05,707.80 L637.13,705.80 L637.22,703.80 L637.31,701.80 L637.39,699.80 L637.48,697.80 L637.57,695.80 L637.65,693.80 L637.74,691.80 L637.83,689.80 L637.92,687.80 L638.01,685.80 L638.11,683.80 L638.20,681.80 L638.29,679.80 L638.39,677.80 L638.48,675.80 L638.58,673.80 L638.68,671.80 L638.78,669.80 L638.88,667.80 L638.98,665.80 L639.09,663.80 L639.19,661.80 L639.30,659.80 L639.41,657.80 L639.52,655.80 L639.63,653.80 L639.74,651.80 L639.86,649.80 L639.98,647.80 L640.10,645.80 L640.22,643.80 L640.34,641.80 L640.47,639.80 L640.60,637.80 L640.73,635.80 L640.86,633.80 L640.99,631.80 L641.13,629.80 L641.26,627.80 L641.40,625.80 L641.55,623.80 L641.69,621.80 L641.83,619.80 L641.98,617.80 L642.13,615.80 L642.28,613.80 L642.43,611.80 L642.58,609.80 L642.74,607.80 L642.89,605.80 L643.05,603.80 L643.21,601.80 L643.37,599.80 L643.53,597.80 L643.69,595.80 L643.85,593.80 L644.01,591.80 L644.18,589.80 L644.34,587.80 L644.51,585.80 L644.67,583.80 L644.84,581.80 L645.00,579.80 L645.17,577.80 L645.33,575.80 L645.50,573.80 L645.66,571.80 L645.83,569.80 L645.99,567.80 L646.16,565.80 L646.32,563.80 L646.48,561.80 L646.64,559.80 L646.80,557.80 L646.96,555.80 L647.12,553.80 L647.27,551.80 L647.43,549.80 L647.58,547.80 L647.73,545.80 L647.88,543.80 L648.02,541.80 L648.16,539.80 L648.30,537.80 L648.44,535.80 L648.57,533.80 L648.70,531.80 L648.82,529.80 L648.95,527.80 L649.07,525.80 L649.18,523.80 L649.30,521.80 L649.41,519.80 L649.52,517.80 L649.63,515.80 L649.74,513.80 L649.84,511.80 L649.95,509.80 L650.05,507.80 L650.15,505.80 L650.26,503.80 L650.36,501.80 L650.46,499.80 L650.56,497.80 L650.67,495.80 L650.78,493.80 L650.88,491.80 L650.99,489.80 L651.10,487.80 L651.22,485.80 L651.34,483.80 L651.46,481.80 L651.58,479.80 L651.71,477.80 L651.84,475.80 L651.98,473.80 L652.12,471.80 L652.27,469.80 L652.42,467.80 L652.58,465.80 L652.74,463.80 L652.92,461.80 L653.10,459.80 L653.29,457.80 L653.49,455.80 L653.69,453.80 L653.91,451.80 L654.14,449.80 L654.38,447.80 L654.62,445.80 L654.89,443.80 L655.16,441.80 L655.45,439.80 L655.75,437.80 L656.06,435.80 L656.40,433.80 L656.74,431.80 L657.10,429.80 L657.47,427.80 L657.85,425.80 L658.25,423.80 L658.65,421.80 L659.07,419.80 L659.50,417.80 L659.94,415.80 L660.38,413.80 L660.84,411.80 L661.30,409.80 L661.76,407.80 L662.24,405.80 L662.71,403.80 L663.19,401.80 L663.67,399.80 L664.15,397.80 L664.62,395.80 L665.10,393.80 L665.57,391.80 L666.03,389.80 L666.49,387.80 L666.94,385.80 L667.38,383.80 L667.81,381.80 L668.22,379.80 L668.63,377.80 L669.01,375.80 L669.38,373.80 L669.73,371.80 L670.06,369.80 L670.37,367.80 L670.65,365.80 L670.91,363.80 L671.14,361.80 L671.33,359.80 L671.48,357.80 L671.60,355.80 L671.67,353.80 L671.70,351.80 L671.68,349.80 L671.61,347.80 L671.49,345.80 L671.31,343.80 L671.08,341.80 L670.79,339.80 L670.43,337.80 L670.02,335.80 L669.56,333.80 L669.03,331.80 L668.46,329.80 L667.84,327.80 L667.17,325.80 L666.45,323.80 L665.70,321.80 L664.90,319.80 L664.07,317.80 L663.21,315.80 L662.32,313.80 L661.42,311.80 L660.51,309.80 L659.59,307.80 L658.68,305.80 L657.78,303.80 L656.89,301.80 L656.02,299.80 L655.17,297.80 L654.33,295.80 L653.53,293.80 L652.75,291.80 L651.99,289.80 L651.27,287.80 L650.58,285.80 L649.92,283.80 L649.30,281.80 L648.70,279.80 L648.14,277.80 L647.60,275.80 L647.09,273.80 L646.60,271.80 L646.13,269.80 L645.68,267.80 L645.25,265.80 L644.84,263.80 L644.45,261.80 L644.07,259.80 L643.71,257.80 L643.36,255.80 L643.02,253.80 L642.70,251.80 L642.38,249.80 L642.08,247.80 L641.79,245.80 L641.50,243.80 L641.23,241.80 L640.96,239.80 L640.70,237.80 L640.45,235.80 L640.20,233.80 L639.96,231.80 L639.73,229.80 L639.50,227.80 L639.27,225.80 L639.05,223.80 L638.83,221.80 L638.62,219.80 L638.41,217.80 L638.20,215.80 L638.00,213.80 L637.79,211.80 L637.59,209.80 L637.39,207.80 L637.18,205.80 L636.98,203.80 L636.77,201.80 L636.56,199.80 L636.35,197.80 L636.14,195.80 L635.92,193.80 L635.70,191.80 L635.48,189.80 L635.25,187.80 L635.02,185.80 L634.79,183.80 L634.55,181.80 L634.32,179.80 L634.08,177.80 L633.83,175.80 L633.59,173.80 L633.35,171.80 L633.10,169.80 L632.85,167.80 L632.61,165.80 L632.37,163.80 L632.12,161.80 L631.88,159.80 L631.65,157.80 L631.41,155.80 L631.18,153.80 L630.96,151.80 L630.74,149.80 L630.53,147.80 L630.32,145.80 L630.12,143.80 L629.93,141.80 L629.75,139.80 L629.57,137.80 L629.41,135.80 L629.25,133.80 L629.10,131.80 L628.96,129.80 L628.82,127.80 L628.70,125.80 L628.59,123.80 L628.48,121.80 L628.38,119.80 L628.29,117.80 L628.20,115.80 Z" fill="#B6D497" stroke="#414850" stroke-width="2.1" stroke-linejoin="round"/>
<line x1="585.63" x2="670.77" y1="339.70" y2="339.70" stroke="#414850" stroke-width="2.1" stroke-dasharray="14.15,14.15"/>
<line x1="594.96" x2="661.44" y1="409.20" y2="409.20" stroke="#414850" stroke-width="2.1" stroke-dasharray="28.3,28.3"/>
<line x1="607.78" x2="648.62" y1="533.00" y2="533.00" stroke="#414850" stroke-width="2.1" stroke-dasharray="14.15,14.15"/>
<path d="M780.50,91.50 L780.47,93.50 L780.42,95.50 L780.38,97.50 L780.33,99.50 L780.28,101.50 L780.22,103.50 L780.17,105.50 L780.11,107.50 L780.04,109.50 L779.98,111.50 L779.91,113.50 L779.84,115.50 L779.77,117.50 L779.69,119.50 L779.61,121.50 L779.53,123.50 L779.44,125.50 L779.35,127.50 L779.26,129.50 L779.16,131.50 L779.06,133.50 L778.96,135.50 L778.86,137.50 L778.75,139.50 L778.64,141.50 L778.52,143.50 L778.40,145.50 L778.28,147.50 L778.16,149.50 L778.03,151.50 L777.90,153.50 L777.76,155.50 L777.63,157.50 L777.49,159.50 L777.34,161.50 L777.20,163.50 L777.05,165.50 L776.89,167.50 L776.74,169.50 L776.58,171.50 L776.42,173.50 L776.25,175.50 L776.09,177.50 L775.92,179.50 L775.74,181.50 L775.57,183.50 L775.39,185.50 L775.21,187.50 L775.02,189.50 L774.84,191.50 L774.65,193.50 L774.45,195.50 L774.25,197.50 L774.05,199.50 L773.85,201.50 L773.64,203.50 L773.43,205.50 L773.21,207.50 L772.99,209.50 L772.76,211.50 L772.53,213.50 L772.30,215.50 L772.06,217.50 L771.81,219.50 L771.55,221.50 L771.29,223.50 L771.03,225.50 L770.75,227.50 L770.47,229.50 L770.18,231.50 L769.88,233.50 L769.57,235.50 L769.25,237.50 L768.92,239.50 L768.58,241.50 L768.24,243.50 L767.88,245.50 L767.52,247.50 L767.14,249.50 L766.76,251.50 L766.36,253.50 L765.96,255.50 L765.54,257.50 L765.12,259.50 L764.68,261.50 L764.24,263.50 L763.78,265.50 L763.32,267.50 L762.84,269.50 L762.36,271.50 L761.87,273.50 L761.36,275.50 L760.85,277.50 L760.33,279.50 L759.80,281.50 L759.26,283.50 L758.71,285.50 L758.15,287.50 L757.59,289.50 L757.02,291.50 L756.44,293.50 L755.86,295.50 L755.27,297.50 L754.67,299.50 L754.07,301.50 L753.47,303.50 L752.86,305.50 L752.25,307.50 L751.63,309.50 L751.02,311.50 L750.40,313.50 L749.79,315.50 L749.17,317.50 L748.56,319.50 L747.95,321.50 L747.35,323.50 L746.75,325.50 L746.15,327.50 L745.57,329.50 L745.00,331.50 L744.45,333.50 L743.91,335.50 L743.38,337.50 L742.87,339.50 L742.38,341.50 L741.91,343.50 L741.45,345.50 L741.01,347.50 L740.59,349.50 L740.20,351.50 L739.82,353.50 L739.47,355.50 L739.13,357.50 L738.82,359.50 L738.53,361.50 L738.27,363.50 L738.03,365.50 L737.81,367.50 L737.62,369.50 L737.45,371.50 L737.31,373.50 L737.20,375.50 L737.11,377.50 L737.05,379.50 L737.01,381.50 L737.00,383.50 L737.01,385.50 L737.05,387.50 L737.11,389.50 L737.20,391.50 L737.30,393.50 L737.43,395.50 L737.58,397.50 L737.75,399.50 L737.94,401.50 L738.15,403.50 L738.38,405.50 L738.62,407.50 L738.88,409.50 L739.16,411.50 L739.46,413.50 L739.77,415.50 L740.09,417.50 L740.43,419.50 L740.78,421.50 L741.15,423.50 L741.52,425.50 L741.91,427.50 L742.30,429.50 L742.71,431.50 L743.12,433.50 L743.55,435.50 L743.98,437.50 L744.41,439.50 L744.85,441.50 L745.30,443.50 L745.75,445.50 L746.21,447.50 L746.66,449.50 L747.12,451.50 L747.58,453.50 L748.03,455.50 L748.47,457.50 L748.91,459.50 L749.35,461.50 L749.78,463.50 L750.19,465.50 L750.61,467.50 L751.01,469.50 L751.40,471.50 L751.78,473.50 L752.15,475.50 L752.51,477.50 L752.86,479.50 L753.19,481.50 L753.51,483.50 L753.82,485.50 L754.11,487.50 L754.39,489.50 L754.66,491.50 L754.91,493.50 L755.15,495.50 L755.37,497.50 L755.57,499.50 L755.76,501.50 L755.94,503.50 L756.10,505.50 L756.26,507.50 L756.40,509.50 L756.53,511.50 L756.66,513.50 L756.78,515.50 L756.89,517.50 L757.00,519.50 L757.11,521.50 L757.21,523.50 L757.30,525.50 L757.40,527.50 L757.49,529.50 L757.58,531.50 L757.67,533.50 L757.75,535.50 L757.83,537.50 L757.91,539.50 L757.99,541.50 L758.07,543.50 L758.14,545.50 L758.21,547.50 L758.28,549.50 L758.35,551.50 L758.42,553.50 L758.48,555.50 L758.54,557.50 L758.60,559.50 L758.66,561.50 L758.72,563.50 L758.78,565.50 L758.83,567.50 L758.89,569.50 L758.94,571.50 L758.99,573.50 L759.04,575.50 L759.09,577.50 L759.14,579.50 L759.19,581.50 L759.24,583.50 L759.28,585.50 L759.33,587.50 L759.37,589.50 L759.41,591.50 L759.46,593.50 L759.50,595.50 L759.54,597.50 L759.58,599.50 L759.62,601.50 L759.66,603.50 L759.70,605.50 L759.74,607.50 L759.78,609.50 L759.82,611.50 L759.86,613.50 L759.90,615.50 L759.94,617.50 L759.97,619.50 L760.01,621.50 L760.05,623.50 L760.09,625.50 L760.13,627.50 L760.17,629.50 L760.21,631.50 L760.25,633.50 L760.29,635.50 L760.33,637.50 L760.37,639.50 L760.42,641.50 L760.46,643.50 L760.51,645.50 L760.55,647.50 L760.60,649.50 L760.65,651.50 L760.70,653.50 L760.75,655.50 L760.81,657.50 L760.86,659.50 L760.92,661.50 L760.98,663.50 L761.04,665.50 L761.10,667.50 L761.17,669.50 L761.23,671.50 L761.30,673.50 L761.37,675.50 L761.45,677.50 L761.52,679.50 L761.60,681.50 L761.68,683.50 L761.77,685.50 L761.85,687.50 L761.94,689.50 L762.04,691.50 L762.13,693.50 L762.23,695.50 L762.33,697.50 L762.43,699.50 L762.54,701.50 L762.65,703.50 L762.76,705.50 L762.87,707.50 L762.99,709.50 L763.11,711.50 L763.24,713.50 L763.36,715.50 L763.49,717.50 L763.63,719.50 L763.76,721.50 L763.90,723.50 L764.05,725.50 L764.19,727.50 L764.34,729.50 L764.49,731.50 L764.65,733.50 L764.80,735.50 L764.96,737.50 L765.13,739.50 L765.29,741.50 L765.46,743.50 L765.63,745.50 L765.80,747.50 L765.98,749.50 L766.16,751.50 L766.34,753.50 L766.52,755.50 L766.71,757.50 L766.90,759.50 L767.09,761.50 L767.28,763.50 L767.48,765.50 L767.67,767.50 L767.87,769.50 L768.07,771.50 L768.28,773.50 L768.48,775.50 L768.69,777.50 L768.90,779.50 L769.11,781.50 L769.33,783.50 L769.55,785.50 L769.77,787.50 L770.00,789.50 L770.22,791.50 L770.45,793.50 L770.68,795.50 L770.92,797.50 L771.15,799.50 L771.39,801.50 L771.63,803.50 L771.87,805.50 L772.11,807.50 L772.35,809.50 L772.59,811.50 L772.83,813.50 L773.08,815.50 L773.32,817.50 L773.56,819.50 L773.81,821.50 L774.05,823.50 L774.29,825.50 L774.53,827.50 L774.76,829.50 L775.00,831.50 L775.23,833.50 L775.46,835.50 L775.69,837.50 L775.91,839.50 L776.14,841.50 L776.35,843.50 L776.57,845.50 L776.77,847.50 L776.98,849.50 L777.18,851.50 L777.37,853.50 L777.56,855.50 L777.75,857.50 L777.93,859.50 L778.10,861.50 L778.27,863.50 L778.44,865.50 L778.59,867.50 L778.74,869.50 L778.89,871.50 L779.03,873.50 L779.16,875.50 L779.29,877.50 L779.42,879.50 L779.53,881.50 L779.64,883.50 L779.75,885.50 L779.85,887.50 L779.94,889.50 L780.03,891.50 L780.12,893.50 L780.20,895.50 L780.27,897.50 L780.34,899.50 L780.40,901.50 L780.46,903.50 L780.50,905.50 L780.50,905.50 L780.54,903.50 L780.60,901.50 L780.66,899.50 L780.73,897.50 L780.80,895.50 L780.88,893.50 L780.97,891.50 L781.06,889.50 L781.15,887.50 L781.25,885.50 L781.36,883.50 L781.47,881.50 L781.58,879.50 L781.71,877.50 L781.84,875.50 L781.97,873.50 L782.11,871.50 L782.26,869.50 L782.41,867.50 L782.56,865.50 L782.73,863.50 L782.90,861.50 L783.07,859.50 L783.25,857.50 L783.44,855.50 L783.63,853.50 L783.82,851.50 L784.02,849.50 L784.23,847.50 L784.43,845.50 L784.65,843.50 L784.86,841.50 L785.09,839.50 L785.31,837.50 L785.54,835.50 L785.77,833.50 L786.00,831.50 L786.24,829.50 L786.47,827.50 L786.71,825.50 L786.95,823.50 L787.19,821.50 L787.44,819.50 L787.68,817.50 L787.92,815.50 L788.17,813.50 L788.41,811.50 L788.65,809.50 L788.89,807.50 L789.13,805.50 L789.37,803.50 L789.61,801.50 L789.85,799.50 L790.08,797.50 L790.32,795.50 L790.55,793.50 L790.78,791.50 L791.00,789.50 L791.23,787.50 L791.45,785.50 L791.67,783.50 L791.89,781.50 L792.10,779.50 L792.31,777.50 L792.52,775.50 L792.72,773.50 L792.93,771.50 L793.13,769.50 L793.33,767.50 L793.52,765.50 L793.72,763.50 L793.91,761.50 L794.10,759.50 L794.29,757.50 L794.48,755.50 L794.66,753.50 L794.84,751.50 L795.02,749.50 L795.20,747.50 L795.37,745.50 L795.54,743.50 L795.71,741.50 L795.87,739.50 L796.04,737.50 L796.20,735.50 L796.35,733.50 L796.51,731.50 L796.66,729.50 L796.81,727.50 L796.95,725.50 L797.10,723.50 L797.24,721.50 L797.37,719.50 L797.51,717.50 L797.64,715.50 L797.76,713.50 L797.89,711.50 L798.01,709.50 L798.13,707.50 L798.24,705.50 L798.35,703.50 L798.46,701.50 L798.57,699.50 L798.67,697.50 L798.77,695.50 L798.87,693.50 L798.96,691.50 L799.06,689.50 L799.15,687.50 L799.23,685.50 L799.32,683.50 L799.40,681.50 L799.48,679.50 L799.55,677.50 L799.63,675.50 L799.70,673.50 L799.77,671.50 L799.83,669.50 L799.90,667.50 L799.96,665.50 L800.02,663.50 L800.08,661.50 L800.14,659.50 L800.19,657.50 L800.25,655.50 L800.30,653.50 L800.35,651.50 L800.40,649.50 L800.45,647.50 L800.49,645.50 L800.54,643.50 L800.58,641.50 L800.63,639.50 L800.67,637.50 L800.71,635.50 L800.75,633.50 L800.79,631.50 L800.83,629.50 L800.87,627.50 L800.91,625.50 L800.95,623.50 L800.99,621.50 L801.03,619.50 L801.06,617.50 L801.10,615.50 L801.14,613.50 L801.18,611.50 L801.22,609.50 L801.26,607.50 L801.30,605.50 L801.34,603.50 L801.38,601.50 L801.42,599.50 L801.46,597.50 L801.50,595.50 L801.54,593.50 L801.59,591.50 L801.63,589.50 L801.67,587.50 L801.72,585.50 L801.76,583.50 L801.81,581.50 L801.86,579.50 L801.91,577.50 L801.96,575.50 L802.01,573.50 L802.06,571.50 L802.11,569.50 L802.17,567.50 L802.22,565.50 L802.28,563.50 L802.34,561.50 L802.40,559.50 L802.46,557.50 L802.52,555.50 L802.58,553.50 L802.65,551.50 L802.72,549.50 L802.79,547.50 L802.86,545.50 L802.93,543.50 L803.01,541.50 L803.09,539.50 L803.17,537.50 L803.25,535.50 L803.33,533.50 L803.42,531.50 L803.51,529.50 L803.60,527.50 L803.70,525.50 L803.79,523.50 L803.89,521.50 L804.00,519.50 L804.11,517.50 L804.22,515.50 L804.34,513.50 L804.47,511.50 L804.60,509.50 L804.74,507.50 L804.90,505.50 L805.06,503.50 L805.24,501.50 L805.43,499.50 L805.63,497.50 L805.85,495.50 L806.09,493.50 L806.34,491.50 L806.61,489.50 L806.89,487.50 L807.18,485.50 L807.49,483.50 L807.81,481.50 L808.14,479.50 L808.49,477.50 L808.85,475.50 L809.22,473.50 L809.60,471.50 L809.99,469.50 L810.39,467.50 L810.81,465.50 L811.22,463.50 L811.65,461.50 L812.09,459.50 L812.53,457.50 L812.97,455.50 L813.42,453.50 L813.88,451.50 L814.34,449.50 L814.79,447.50 L815.25,445.50 L815.70,443.50 L816.15,441.50 L816.59,439.50 L817.02,437.50 L817.45,435.50 L817.88,433.50 L818.29,431.50 L818.70,429.50 L819.09,427.50 L819.48,425.50 L819.85,423.50 L820.22,421.50 L820.57,419.50 L820.91,417.50 L821.23,415.50 L821.54,413.50 L821.84,411.50 L822.12,409.50 L822.38,407.50 L822.62,405.50 L822.85,403.50 L823.06,401.50 L823.25,399.50 L823.42,397.50 L823.57,395.50 L823.70,393.50 L823.80,391.50 L823.89,389.50 L823.95,387.50 L823.99,385.50 L824.00,383.50 L823.99,381.50 L823.95,379.50 L823.89,377.50 L823.80,375.50 L823.69,373.50 L823.55,371.50 L823.38,369.50 L823.19,367.50 L822.97,365.50 L822.73,363.50 L822.47,361.50 L822.18,359.50 L821.87,357.50 L821.53,355.50 L821.18,353.50 L820.80,351.50 L820.41,349.50 L819.99,347.50 L819.55,345.50 L819.09,343.50 L818.62,341.50 L818.13,339.50 L817.62,337.50 L817.09,335.50 L816.55,333.50 L816.00,331.50 L815.43,329.50 L814.85,327.50 L814.25,325.50 L813.65,323.50 L813.05,321.50 L812.44,319.50 L811.83,317.50 L811.21,315.50 L810.60,313.50 L809.98,311.50 L809.37,309.50 L808.75,307.50 L808.14,305.50 L807.53,303.50 L806.93,301.50 L806.33,299.50 L805.73,297.50 L805.14,295.50 L804.56,293.50 L803.98,291.50 L803.41,289.50 L802.85,287.50 L802.29,285.50 L801.74,283.50 L801.20,281.50 L800.67,279.50 L800.15,277.50 L799.64,275.50 L799.13,273.50 L798.64,271.50 L798.16,269.50 L797.68,267.50 L797.22,265.50 L796.76,263.50 L796.32,261.50 L795.88,259.50 L795.46,257.50 L795.04,255.50 L794.64,253.50 L794.24,251.50 L793.86,249.50 L793.48,247.50 L793.12,245.50 L792.76,243.50 L792.42,241.50 L792.08,239.50 L791.75,237.50 L791.43,235.50 L791.12,233.50 L790.82,231.50 L790.53,229.50 L790.25,227.50 L789.97,225.50 L789.71,223.50 L789.45,221.50 L789.19,219.50 L788.94,217.50 L788.70,215.50 L788.47,213.50 L788.24,211.50 L788.01,209.50 L787.79,207.50 L787.57,205.50 L787.36,203.50 L787.15,201.50 L786.95,199.50 L786.75,197.50 L786.55,195.50 L786.35,193.50 L786.16,191.50 L785.98,189.50 L785.79,187.50 L785.61,185.50 L785.43,183.50 L785.26,181.50 L785.08,179.50 L784.91,177.50 L784.75,175.50 L784.58,173.50 L784.42,171.50 L784.26,169.50 L784.11,167.50 L783.95,165.50 L783.80,163.50 L783.66,161.50 L783.51,159.50 L783.37,157.50 L783.24,155.50 L783.10,153.50 L782.97,151.50 L782.84,149.50 L782.72,147.50 L782.60,145.50 L782.48,143.50 L782.36,141.50 L782.25,139.50 L782.14,137.50 L782.04,135.50 L781.94,133.50 L781.84,131.50 L781.74,129.50 L781.65,127.50 L781.56,125.50 L781.47,123.50 L781.39,121.50 L781.31,119.50 L781.23,117.50 L781.16,115.50 L781.09,113.50 L781.02,111.50 L780.96,109.50 L780.89,107.50 L780.83,105.50 L780.78,103.50 L780.72,101.50 L780.67,99.50 L780.62,97.50 L780.58,95.50 L780.53,93.50 L780.50,91.50 Z" fill="#B3CCDB" stroke="#414850" stroke-width="2.1" stroke-linejoin="round"/>
<line x1="738.28" x2="822.72" y1="363.40" y2="363.40" stroke="#414850" stroke-width="2.1" stroke-dasharray="14.15,14.15"/>
<line x1="746.28" x2="814.72" y1="447.80" y2="447.80" stroke="#414850" stroke-width="2.1" stroke-dasharray="28.3,28.3"/>
<line x1="759.65" x2="801.35" y1="603.00" y2="603.00" stroke="#414850" stroke-width="2.1" stroke-dasharray="14.15,14.15"/>
<path d="M867.40,106.60 L867.36,108.60 L867.33,110.60 L867.29,112.60 L867.24,114.60 L867.20,116.60 L867.15,118.60 L867.11,120.60 L867.06,122.60 L867.00,124.60 L866.95,126.60 L866.89,128.60 L866.83,130.60 L866.77,132.60 L866.70,134.60 L866.63,136.60 L866.56,138.60 L866.49,140.60 L866.41,142.60 L866.33,144.60 L866.24,146.60 L866.16,148.60 L866.06,150.60 L865.97,152.60 L865.87,154.60 L865.77,156.60 L865.66,158.60 L865.55,160.60 L865.43,162.60 L865.31,164.60 L865.19,166.60 L865.06,168.60 L864.93,170.60 L864.79,172.60 L864.65,174.60 L864.50,176.60 L864.35,178.60 L864.19,180.60 L864.02,182.60 L863.86,184.60 L863.68,186.60 L863.50,188.60 L863.32,190.60 L863.13,192.60 L862.93,194.60 L862.73,196.60 L862.52,198.60 L862.31,200.60 L862.08,202.60 L861.86,204.60 L861.62,206.60 L861.38,208.60 L861.14,210.60 L860.89,212.60 L860.63,214.60 L860.36,216.60 L860.09,218.60 L859.81,220.60 L859.52,222.60 L859.23,224.60 L858.93,226.60 L858.62,228.60 L858.30,230.60 L857.97,232.60 L857.64,234.60 L857.29,236.60 L856.94,238.60 L856.58,240.60 L856.20,242.60 L855.81,244.60 L855.42,246.60 L855.01,248.60 L854.58,250.60 L854.14,252.60 L853.69,254.60 L853.22,256.60 L852.74,258.60 L852.24,260.60 L851.72,262.60 L851.18,264.60 L850.61,266.60 L850.03,268.60 L849.42,270.60 L848.79,272.60 L848.14,274.60 L847.46,276.60 L846.75,278.60 L846.03,280.60 L845.28,282.60 L844.51,284.60 L843.72,286.60 L842.92,288.60 L842.10,290.60 L841.26,292.60 L840.41,294.60 L839.56,296.60 L838.69,298.60 L837.83,300.60 L836.96,302.60 L836.10,304.60 L835.25,306.60 L834.40,308.60 L833.58,310.60 L832.77,312.60 L831.99,314.60 L831.23,316.60 L830.50,318.60 L829.79,320.60 L829.12,322.60 L828.48,324.60 L827.88,326.60 L827.32,328.60 L826.79,330.60 L826.30,332.60 L825.86,334.60 L825.46,336.60 L825.10,338.60 L824.79,340.60 L824.52,342.60 L824.31,344.60 L824.14,346.60 L824.02,348.60 L823.94,350.60 L823.92,352.60 L823.94,354.60 L824.02,356.60 L824.14,358.60 L824.31,360.60 L824.53,362.60 L824.79,364.60 L825.10,366.60 L825.46,368.60 L825.85,370.60 L826.29,372.60 L826.77,374.60 L827.29,376.60 L827.84,378.60 L828.42,380.60 L829.03,382.60 L829.67,384.60 L830.33,386.60 L831.00,388.60 L831.70,390.60 L832.40,392.60 L833.11,394.60 L833.83,396.60 L834.55,398.60 L835.28,400.60 L836.00,402.60 L836.72,404.60 L837.44,406.60 L838.15,408.60 L838.85,410.60 L839.54,412.60 L840.22,414.60 L840.88,416.60 L841.54,418.60 L842.17,420.60 L842.80,422.60 L843.40,424.60 L843.99,426.60 L844.57,428.60 L845.12,430.60 L845.65,432.60 L846.17,434.60 L846.67,436.60 L847.15,438.60 L847.62,440.60 L848.07,442.60 L848.51,444.60 L848.93,446.60 L849.33,448.60 L849.73,450.60 L850.10,452.60 L850.47,454.60 L850.83,456.60 L851.17,458.60 L851.50,460.60 L851.82,462.60 L852.13,464.60 L852.43,466.60 L852.72,468.60 L853.00,470.60 L853.27,472.60 L853.53,474.60 L853.78,476.60 L854.02,478.60 L854.26,480.60 L854.49,482.60 L854.71,484.60 L854.92,486.60 L855.12,488.60 L855.32,490.60 L855.51,492.60 L855.70,494.60 L855.88,496.60 L856.05,498.60 L856.21,500.60 L856.37,502.60 L856.53,504.60 L856.68,506.60 L856.82,508.60 L856.96,510.60 L857.09,512.60 L857.22,514.60 L857.35,516.60 L857.47,518.60 L857.59,520.60 L857.70,522.60 L857.82,524.60 L857.93,526.60 L858.03,528.60 L858.14,530.60 L858.24,532.60 L858.34,534.60 L858.44,536.60 L858.54,538.60 L858.64,540.60 L858.74,542.60 L858.84,544.60 L858.93,546.60 L859.03,548.60 L859.12,550.60 L859.22,552.60 L859.31,554.60 L859.41,556.60 L859.51,558.60 L859.60,560.60 L859.70,562.60 L859.80,564.60 L859.90,566.60 L860.00,568.60 L860.10,570.60 L860.20,572.60 L860.31,574.60 L860.41,576.60 L860.52,578.60 L860.63,580.60 L860.73,582.60 L860.84,584.60 L860.96,586.60 L861.07,588.60 L861.18,590.60 L861.29,592.60 L861.41,594.60 L861.52,596.60 L861.63,598.60 L861.74,600.60 L861.85,602.60 L861.96,604.60 L862.06,606.60 L862.17,608.60 L862.27,610.60 L862.37,612.60 L862.47,614.60 L862.57,616.60 L862.67,618.60 L862.76,620.60 L862.85,622.60 L862.94,624.60 L863.02,626.60 L863.10,628.60 L863.18,630.60 L863.26,632.60 L863.33,634.60 L863.41,636.60 L863.47,638.60 L863.54,640.60 L863.60,642.60 L863.66,644.60 L863.72,646.60 L863.77,648.60 L863.82,650.60 L863.87,652.60 L863.91,654.60 L863.95,656.60 L863.99,658.60 L864.02,660.60 L864.05,662.60 L864.08,664.60 L864.11,666.60 L864.13,668.60 L864.15,670.60 L864.16,672.60 L864.18,674.60 L864.19,676.60 L864.21,678.60 L864.22,680.60 L864.23,682.60 L864.25,684.60 L864.26,686.60 L864.27,688.60 L864.29,690.60 L864.30,692.60 L864.32,694.60 L864.34,696.60 L864.36,698.60 L864.38,700.60 L864.41,702.60 L864.43,704.60 L864.46,706.60 L864.50,708.60 L864.53,710.60 L864.57,712.60 L864.60,714.60 L864.64,716.60 L864.69,718.60 L864.73,720.60 L864.78,722.60 L864.82,724.60 L864.87,726.60 L864.92,728.60 L864.97,730.60 L865.02,732.60 L865.08,734.60 L865.13,736.60 L865.18,738.60 L865.24,740.60 L865.30,742.60 L865.35,744.60 L865.41,746.60 L865.47,748.60 L865.52,750.60 L865.58,752.60 L865.64,754.60 L865.70,756.60 L865.76,758.60 L865.81,760.60 L865.87,762.60 L865.93,764.60 L865.98,766.60 L866.04,768.60 L866.09,770.60 L866.14,772.60 L866.19,774.60 L866.25,776.60 L866.30,778.60 L866.34,780.60 L866.39,782.60 L866.44,784.60 L866.48,786.60 L866.53,788.60 L866.57,790.60 L866.61,792.60 L866.65,794.60 L866.69,796.60 L866.73,798.60 L866.77,800.60 L866.80,802.60 L866.83,804.60 L866.87,806.60 L866.90,808.60 L866.93,810.60 L866.96,812.60 L866.99,814.60 L867.01,816.60 L867.04,818.60 L867.07,820.60 L867.09,822.60 L867.11,824.60 L867.13,826.60 L867.15,828.60 L867.17,830.60 L867.19,832.60 L867.21,834.60 L867.23,836.60 L867.24,838.60 L867.26,840.60 L867.27,842.60 L867.29,844.60 L867.30,846.60 L867.31,848.60 L867.32,850.60 L867.33,852.60 L867.34,854.60 L867.35,856.60 L867.36,858.60 L867.37,860.60 L867.37,862.60 L867.38,864.60 L867.38,866.60 L867.39,868.60 L867.39,870.60 L867.39,872.60 L867.40,874.60 L867.40,876.60 L867.40,878.60 L867.40,880.00 L867.40,880.00 L867.40,878.60 L867.40,876.60 L867.40,874.60 L867.41,872.60 L867.41,870.60 L867.41,868.60 L867.42,866.60 L867.42,864.60 L867.43,862.60 L867.43,860.60 L867.44,858.60 L867.45,856.60 L867.46,854.60 L867.47,852.60 L867.48,850.60 L867.49,848.60 L867.50,846.60 L867.51,844.60 L867.53,842.60 L867.54,840.60 L867.56,838.60 L867.57,836.60 L867.59,834.60 L867.61,832.60 L867.63,830.60 L867.65,828.60 L867.67,826.60 L867.69,824.60 L867.71,822.60 L867.73,820.60 L867.76,818.60 L867.79,816.60 L867.81,814.60 L867.84,812.60 L867.87,810.60 L867.90,808.60 L867.93,806.60 L867.97,804.60 L868.00,802.60 L868.03,800.60 L868.07,798.60 L868.11,796.60 L868.15,794.60 L868.19,792.60 L868.23,790.60 L868.27,788.60 L868.32,786.60 L868.36,784.60 L868.41,782.60 L868.46,780.60 L868.50,778.60 L868.55,776.60 L868.61,774.60 L868.66,772.60 L868.71,770.60 L868.76,768.60 L868.82,766.60 L868.87,764.60 L868.93,762.60 L868.99,760.60 L869.04,758.60 L869.10,756.60 L869.16,754.60 L869.22,752.60 L869.28,750.60 L869.33,748.60 L869.39,746.60 L869.45,744.60 L869.50,742.60 L869.56,740.60 L869.62,738.60 L869.67,736.60 L869.72,734.60 L869.78,732.60 L869.83,730.60 L869.88,728.60 L869.93,726.60 L869.98,724.60 L870.02,722.60 L870.07,720.60 L870.11,718.60 L870.16,716.60 L870.20,714.60 L870.23,712.60 L870.27,710.60 L870.30,708.60 L870.34,706.60 L870.37,704.60 L870.39,702.60 L870.42,700.60 L870.44,698.60 L870.46,696.60 L870.48,694.60 L870.50,692.60 L870.51,690.60 L870.53,688.60 L870.54,686.60 L870.55,684.60 L870.57,682.60 L870.58,680.60 L870.59,678.60 L870.61,676.60 L870.62,674.60 L870.64,672.60 L870.65,670.60 L870.67,668.60 L870.69,666.60 L870.72,664.60 L870.75,662.60 L870.78,660.60 L870.81,658.60 L870.85,656.60 L870.89,654.60 L870.93,652.60 L870.98,650.60 L871.03,648.60 L871.08,646.60 L871.14,644.60 L871.20,642.60 L871.26,640.60 L871.33,638.60 L871.39,636.60 L871.47,634.60 L871.54,632.60 L871.62,630.60 L871.70,628.60 L871.78,626.60 L871.86,624.60 L871.95,622.60 L872.04,620.60 L872.13,618.60 L872.23,616.60 L872.33,614.60 L872.43,612.60 L872.53,610.60 L872.63,608.60 L872.74,606.60 L872.84,604.60 L872.95,602.60 L873.06,600.60 L873.17,598.60 L873.28,596.60 L873.39,594.60 L873.51,592.60 L873.62,590.60 L873.73,588.60 L873.84,586.60 L873.96,584.60 L874.07,582.60 L874.17,580.60 L874.28,578.60 L874.39,576.60 L874.49,574.60 L874.60,572.60 L874.70,570.60 L874.80,568.60 L874.90,566.60 L875.00,564.60 L875.10,562.60 L875.20,560.60 L875.29,558.60 L875.39,556.60 L875.49,554.60 L875.58,552.60 L875.68,550.60 L875.77,548.60 L875.87,546.60 L875.96,544.60 L876.06,542.60 L876.16,540.60 L876.26,538.60 L876.36,536.60 L876.46,534.60 L876.56,532.60 L876.66,530.60 L876.77,528.60 L876.87,526.60 L876.98,524.60 L877.10,522.60 L877.21,520.60 L877.33,518.60 L877.45,516.60 L877.58,514.60 L877.71,512.60 L877.84,510.60 L877.98,508.60 L878.12,506.60 L878.27,504.60 L878.43,502.60 L878.59,500.60 L878.75,498.60 L878.92,496.60 L879.10,494.60 L879.29,492.60 L879.48,490.60 L879.68,488.60 L879.88,486.60 L880.09,484.60 L880.31,482.60 L880.54,480.60 L880.78,478.60 L881.02,476.60 L881.27,474.60 L881.53,472.60 L881.80,470.60 L882.08,468.60 L882.37,466.60 L882.67,464.60 L882.98,462.60 L883.30,460.60 L883.63,458.60 L883.97,456.60 L884.33,454.60 L884.70,452.60 L885.07,450.60 L885.47,448.60 L885.87,446.60 L886.29,444.60 L886.73,442.60 L887.18,440.60 L887.65,438.60 L888.13,436.60 L888.63,434.60 L889.15,432.60 L889.68,430.60 L890.23,428.60 L890.81,426.60 L891.40,424.60 L892.00,422.60 L892.63,420.60 L893.26,418.60 L893.92,416.60 L894.58,414.60 L895.26,412.60 L895.95,410.60 L896.65,408.60 L897.36,406.60 L898.08,404.60 L898.80,402.60 L899.52,400.60 L900.25,398.60 L900.97,396.60 L901.69,394.60 L902.40,392.60 L903.10,390.60 L903.80,388.60 L904.47,386.60 L905.13,384.60 L905.77,382.60 L906.38,380.60 L906.96,378.60 L907.51,376.60 L908.03,374.60 L908.51,372.60 L908.95,370.60 L909.34,368.60 L909.70,366.60 L910.01,364.60 L910.27,362.60 L910.49,360.60 L910.66,358.60 L910.78,356.60 L910.86,354.60 L910.88,352.60 L910.86,350.60 L910.78,348.60 L910.66,346.60 L910.49,344.60 L910.28,342.60 L910.01,340.60 L909.70,338.60 L909.34,336.60 L908.94,334.60 L908.50,332.60 L908.01,330.60 L907.48,328.60 L906.92,326.60 L906.32,324.60 L905.68,322.60 L905.01,320.60 L904.30,318.60 L903.57,316.60 L902.81,314.60 L902.03,312.60 L901.22,310.60 L900.40,308.60 L899.55,306.60 L898.70,304.60 L897.84,302.60 L896.97,300.60 L896.11,298.60 L895.24,296.60 L894.39,294.60 L893.54,292.60 L892.70,290.60 L891.88,288.60 L891.08,286.60 L890.29,284.60 L889.52,282.60 L888.77,280.60 L888.05,278.60 L887.34,276.60 L886.66,274.60 L886.01,272.60 L885.38,270.60 L884.77,268.60 L884.19,266.60 L883.62,264.60 L883.08,262.60 L882.56,260.60 L882.06,258.60 L881.58,256.60 L881.11,254.60 L880.66,252.60 L880.22,250.60 L879.79,248.60 L879.38,246.60 L878.99,244.60 L878.60,242.60 L878.22,240.60 L877.86,238.60 L877.51,236.60 L877.16,234.60 L876.83,232.60 L876.50,230.60 L876.18,228.60 L875.87,226.60 L875.57,224.60 L875.28,222.60 L874.99,220.60 L874.71,218.60 L874.44,216.60 L874.17,214.60 L873.91,212.60 L873.66,210.60 L873.42,208.60 L873.18,206.60 L872.94,204.60 L872.72,202.60 L872.49,200.60 L872.28,198.60 L872.07,196.60 L871.87,194.60 L871.67,192.60 L871.48,190.60 L871.30,188.60 L871.12,186.60 L870.94,184.60 L870.78,182.60 L870.61,180.60 L870.45,178.60 L870.30,176.60 L870.15,174.60 L870.01,172.60 L869.87,170.60 L869.74,168.60 L869.61,166.60 L869.49,164.60 L869.37,162.60 L869.25,160.60 L869.14,158.60 L869.03,156.60 L868.93,154.60 L868.83,152.60 L868.74,150.60 L868.64,148.60 L868.56,146.60 L868.47,144.60 L868.39,142.60 L868.31,140.60 L868.24,138.60 L868.17,136.60 L868.10,134.60 L868.03,132.60 L867.97,130.60 L867.91,128.60 L867.85,126.60 L867.80,124.60 L867.74,122.60 L867.69,120.60 L867.65,118.60 L867.60,116.60 L867.56,114.60 L867.51,112.60 L867.47,110.60 L867.44,108.60 L867.40,106.60 Z" fill="#44729F" stroke="#414850" stroke-width="2.1" stroke-linejoin="round"/>
<line x1="828.52" x2="906.28" y1="324.50" y2="324.50" stroke="#414850" stroke-width="2.1" stroke-dasharray="14.15,14.15"/>
<line x1="825.92" x2="908.88" y1="370.90" y2="370.90" stroke="#414850" stroke-width="2.1" stroke-dasharray="28.3,28.3"/>
<line x1="847.48" x2="887.32" y1="440.00" y2="440.00" stroke="#414850" stroke-width="2.1" stroke-dasharray="14.15,14.15"/>
<path d="M954.60,117.20 L954.49,119.20 L954.39,121.20 L954.29,123.20 L954.17,125.20 L954.05,127.20 L953.92,129.20 L953.77,131.20 L953.62,133.20 L953.46,135.20 L953.29,137.20 L953.11,139.20 L952.92,141.20 L952.72,143.20 L952.52,145.20 L952.31,147.20 L952.09,149.20 L951.87,151.20 L951.64,153.20 L951.40,155.20 L951.17,157.20 L950.93,159.20 L950.68,161.20 L950.44,163.20 L950.19,165.20 L949.95,167.20 L949.70,169.20 L949.46,171.20 L949.22,173.20 L948.98,175.20 L948.74,177.20 L948.50,179.20 L948.27,181.20 L948.04,183.20 L947.81,185.20 L947.58,187.20 L947.36,189.20 L947.14,191.20 L946.93,193.20 L946.71,195.20 L946.50,197.20 L946.29,199.20 L946.08,201.20 L945.87,203.20 L945.66,205.20 L945.44,207.20 L945.23,209.20 L945.01,211.20 L944.79,213.20 L944.56,215.20 L944.33,217.20 L944.09,219.20 L943.83,221.20 L943.57,223.20 L943.30,225.20 L943.02,227.20 L942.73,229.20 L942.43,231.20 L942.12,233.20 L941.80,235.20 L941.47,237.20 L941.13,239.20 L940.78,241.20 L940.42,243.20 L940.04,245.20 L939.66,247.20 L939.26,249.20 L938.86,251.20 L938.44,253.20 L938.01,255.20 L937.57,257.20 L937.12,259.20 L936.65,261.20 L936.18,263.20 L935.69,265.20 L935.20,267.20 L934.69,269.20 L934.17,271.20 L933.64,273.20 L933.10,275.20 L932.55,277.20 L931.99,279.20 L931.42,281.20 L930.83,283.20 L930.23,285.20 L929.62,287.20 L929.00,289.20 L928.37,291.20 L927.72,293.20 L927.06,295.20 L926.39,297.20 L925.72,299.20 L925.03,301.20 L924.35,303.20 L923.65,305.20 L922.96,307.20 L922.26,309.20 L921.57,311.20 L920.88,313.20 L920.20,315.20 L919.53,317.20 L918.87,319.20 L918.23,321.20 L917.60,323.20 L916.98,325.20 L916.39,327.20 L915.82,329.20 L915.27,331.20 L914.75,333.20 L914.26,335.20 L913.79,337.20 L913.36,339.20 L912.96,341.20 L912.59,343.20 L912.26,345.20 L911.97,347.20 L911.72,349.20 L911.51,351.20 L911.35,353.20 L911.22,355.20 L911.14,357.20 L911.11,359.20 L911.10,361.20 L911.14,363.20 L911.21,365.20 L911.31,367.20 L911.44,369.20 L911.60,371.20 L911.79,373.20 L912.00,375.20 L912.23,377.20 L912.48,379.20 L912.75,381.20 L913.03,383.20 L913.32,385.20 L913.63,387.20 L913.95,389.20 L914.27,391.20 L914.60,393.20 L914.94,395.20 L915.29,397.20 L915.64,399.20 L916.00,401.20 L916.36,403.20 L916.73,405.20 L917.10,407.20 L917.48,409.20 L917.86,411.20 L918.24,413.20 L918.62,415.20 L919.00,417.20 L919.38,419.20 L919.76,421.20 L920.15,423.20 L920.53,425.20 L920.91,427.20 L921.29,429.20 L921.66,431.20 L922.04,433.20 L922.40,435.20 L922.77,437.20 L923.13,439.20 L923.49,441.20 L923.84,443.20 L924.18,445.20 L924.52,447.20 L924.86,449.20 L925.19,451.20 L925.51,453.20 L925.83,455.20 L926.14,457.20 L926.44,459.20 L926.74,461.20 L927.03,463.20 L927.32,465.20 L927.60,467.20 L927.87,469.20 L928.15,471.20 L928.41,473.20 L928.67,475.20 L928.93,477.20 L929.18,479.20 L929.42,481.20 L929.67,483.20 L929.90,485.20 L930.14,487.20 L930.37,489.20 L930.59,491.20 L930.81,493.20 L931.03,495.20 L931.25,497.20 L931.46,499.20 L931.67,501.20 L931.87,503.20 L932.07,505.20 L932.27,507.20 L932.47,509.20 L932.66,511.20 L932.85,513.20 L933.04,515.20 L933.22,517.20 L933.41,519.20 L933.59,521.20 L933.76,523.20 L933.94,525.20 L934.11,527.20 L934.28,529.20 L934.45,531.20 L934.62,533.20 L934.79,535.20 L934.95,537.20 L935.11,539.20 L935.27,541.20 L935.43,543.20 L935.59,545.20 L935.74,547.20 L935.90,549.20 L936.05,551.20 L936.20,553.20 L936.35,555.20 L936.50,557.20 L936.64,559.20 L936.79,561.20 L936.93,563.20 L937.08,565.20 L937.22,567.20 L937.36,569.20 L937.50,571.20 L937.64,573.20 L937.78,575.20 L937.92,577.20 L938.06,579.20 L938.19,581.20 L938.33,583.20 L938.46,585.20 L938.60,587.20 L938.73,589.20 L938.87,591.20 L939.00,593.20 L939.13,595.20 L939.26,597.20 L939.39,599.20 L939.52,601.20 L939.65,603.20 L939.78,605.20 L939.91,607.20 L940.04,609.20 L940.17,611.20 L940.30,613.20 L940.43,615.20 L940.55,617.20 L940.68,619.20 L940.81,621.20 L940.94,623.20 L941.06,625.20 L941.19,627.20 L941.32,629.20 L941.44,631.20 L941.57,633.20 L941.69,635.20 L941.82,637.20 L941.94,639.20 L942.07,641.20 L942.19,643.20 L942.32,645.20 L942.44,647.20 L942.57,649.20 L942.69,651.20 L942.81,653.20 L942.93,655.20 L943.06,657.20 L943.18,659.20 L943.30,661.20 L943.42,663.20 L943.54,665.20 L943.66,667.20 L943.78,669.20 L943.90,671.20 L944.02,673.20 L944.14,675.20 L944.25,677.20 L944.37,679.20 L944.49,681.20 L944.60,683.20 L944.72,685.20 L944.83,687.20 L944.95,689.20 L945.06,691.20 L945.18,693.20 L945.29,695.20 L945.40,697.20 L945.51,699.20 L945.62,701.20 L945.73,703.20 L945.84,705.20 L945.95,707.20 L946.06,709.20 L946.17,711.20 L946.27,713.20 L946.38,715.20 L946.48,717.20 L946.59,719.20 L946.69,721.20 L946.80,723.20 L946.90,725.20 L947.00,727.20 L947.10,729.20 L947.20,731.20 L947.30,733.20 L947.40,735.20 L947.50,737.20 L947.60,739.20 L947.69,741.20 L947.79,743.20 L947.88,745.20 L947.98,747.20 L948.07,749.20 L948.17,751.20 L948.26,753.20 L948.35,755.20 L948.44,757.20 L948.53,759.20 L948.62,761.20 L948.71,763.20 L948.80,765.20 L948.88,767.20 L948.97,769.20 L949.05,771.20 L949.14,773.20 L949.22,775.20 L949.31,777.20 L949.39,779.20 L949.47,781.20 L949.55,783.20 L949.63,785.20 L949.71,787.20 L949.79,789.20 L949.87,791.20 L949.95,793.20 L950.04,795.20 L950.13,797.20 L950.22,799.20 L950.31,801.20 L950.41,803.20 L950.52,805.20 L950.63,807.20 L950.75,809.20 L950.87,811.20 L951.00,813.20 L951.13,815.20 L951.27,817.20 L951.41,819.20 L951.56,821.20 L951.72,823.20 L951.87,825.20 L952.03,827.20 L952.20,829.20 L952.36,831.20 L952.52,833.20 L952.69,835.20 L952.85,837.20 L953.02,839.20 L953.18,841.20 L953.33,843.20 L953.49,845.20 L953.63,847.20 L953.78,849.20 L953.91,851.20 L954.04,853.20 L954.16,855.20 L954.28,857.20 L954.38,859.20 L954.48,861.20 L954.57,863.20 L954.60,864.00 L954.60,864.00 L954.63,863.20 L954.72,861.20 L954.82,859.20 L954.92,857.20 L955.04,855.20 L955.16,853.20 L955.29,851.20 L955.42,849.20 L955.57,847.20 L955.71,845.20 L955.87,843.20 L956.02,841.20 L956.18,839.20 L956.35,837.20 L956.51,835.20 L956.68,833.20 L956.84,831.20 L957.00,829.20 L957.17,827.20 L957.33,825.20 L957.48,823.20 L957.64,821.20 L957.79,819.20 L957.93,817.20 L958.07,815.20 L958.20,813.20 L958.33,811.20 L958.45,809.20 L958.57,807.20 L958.68,805.20 L958.79,803.20 L958.89,801.20 L958.98,799.20 L959.07,797.20 L959.16,795.20 L959.25,793.20 L959.33,791.20 L959.41,789.20 L959.49,787.20 L959.57,785.20 L959.65,783.20 L959.73,781.20 L959.81,779.20 L959.89,777.20 L959.98,775.20 L960.06,773.20 L960.15,771.20 L960.23,769.20 L960.32,767.20 L960.40,765.20 L960.49,763.20 L960.58,761.20 L960.67,759.20 L960.76,757.20 L960.85,755.20 L960.94,753.20 L961.03,751.20 L961.13,749.20 L961.22,747.20 L961.32,745.20 L961.41,743.20 L961.51,741.20 L961.60,739.20 L961.70,737.20 L961.80,735.20 L961.90,733.20 L962.00,731.20 L962.10,729.20 L962.20,727.20 L962.30,725.20 L962.40,723.20 L962.51,721.20 L962.61,719.20 L962.72,717.20 L962.82,715.20 L962.93,713.20 L963.03,711.20 L963.14,709.20 L963.25,707.20 L963.36,705.20 L963.47,703.20 L963.58,701.20 L963.69,699.20 L963.80,697.20 L963.91,695.20 L964.02,693.20 L964.14,691.20 L964.25,689.20 L964.37,687.20 L964.48,685.20 L964.60,683.20 L964.71,681.20 L964.83,679.20 L964.95,677.20 L965.06,675.20 L965.18,673.20 L965.30,671.20 L965.42,669.20 L965.54,667.20 L965.66,665.20 L965.78,663.20 L965.90,661.20 L966.02,659.20 L966.14,657.20 L966.27,655.20 L966.39,653.20 L966.51,651.20 L966.63,649.20 L966.76,647.20 L966.88,645.20 L967.01,643.20 L967.13,641.20 L967.26,639.20 L967.38,637.20 L967.51,635.20 L967.63,633.20 L967.76,631.20 L967.88,629.20 L968.01,627.20 L968.14,625.20 L968.26,623.20 L968.39,621.20 L968.52,619.20 L968.65,617.20 L968.77,615.20 L968.90,613.20 L969.03,611.20 L969.16,609.20 L969.29,607.20 L969.42,605.20 L969.55,603.20 L969.68,601.20 L969.81,599.20 L969.94,597.20 L970.07,595.20 L970.20,593.20 L970.33,591.20 L970.47,589.20 L970.60,587.20 L970.74,585.20 L970.87,583.20 L971.01,581.20 L971.14,579.20 L971.28,577.20 L971.42,575.20 L971.56,573.20 L971.70,571.20 L971.84,569.20 L971.98,567.20 L972.12,565.20 L972.27,563.20 L972.41,561.20 L972.56,559.20 L972.70,557.20 L972.85,555.20 L973.00,553.20 L973.15,551.20 L973.30,549.20 L973.46,547.20 L973.61,545.20 L973.77,543.20 L973.93,541.20 L974.09,539.20 L974.25,537.20 L974.41,535.20 L974.58,533.20 L974.75,531.20 L974.92,529.20 L975.09,527.20 L975.26,525.20 L975.44,523.20 L975.61,521.20 L975.79,519.20 L975.98,517.20 L976.16,515.20 L976.35,513.20 L976.54,511.20 L976.73,509.20 L976.93,507.20 L977.13,505.20 L977.33,503.20 L977.53,501.20 L977.74,499.20 L977.95,497.20 L978.17,495.20 L978.39,493.20 L978.61,491.20 L978.83,489.20 L979.06,487.20 L979.30,485.20 L979.53,483.20 L979.78,481.20 L980.02,479.20 L980.27,477.20 L980.53,475.20 L980.79,473.20 L981.05,471.20 L981.33,469.20 L981.60,467.20 L981.88,465.20 L982.17,463.20 L982.46,461.20 L982.76,459.20 L983.06,457.20 L983.37,455.20 L983.69,453.20 L984.01,451.20 L984.34,449.20 L984.68,447.20 L985.02,445.20 L985.36,443.20 L985.71,441.20 L986.07,439.20 L986.43,437.20 L986.80,435.20 L987.16,433.20 L987.54,431.20 L987.91,429.20 L988.29,427.20 L988.67,425.20 L989.05,423.20 L989.44,421.20 L989.82,419.20 L990.20,417.20 L990.58,415.20 L990.96,413.20 L991.34,411.20 L991.72,409.20 L992.10,407.20 L992.47,405.20 L992.84,403.20 L993.20,401.20 L993.56,399.20 L993.91,397.20 L994.26,395.20 L994.60,393.20 L994.93,391.20 L995.25,389.20 L995.57,387.20 L995.88,385.20 L996.17,383.20 L996.45,381.20 L996.72,379.20 L996.97,377.20 L997.20,375.20 L997.41,373.20 L997.60,371.20 L997.76,369.20 L997.89,367.20 L997.99,365.20 L998.06,363.20 L998.10,361.20 L998.09,359.20 L998.06,357.20 L997.98,355.20 L997.85,353.20 L997.69,351.20 L997.48,349.20 L997.23,347.20 L996.94,345.20 L996.61,343.20 L996.24,341.20 L995.84,339.20 L995.41,337.20 L994.94,335.20 L994.45,333.20 L993.93,331.20 L993.38,329.20 L992.81,327.20 L992.22,325.20 L991.60,323.20 L990.97,321.20 L990.33,319.20 L989.67,317.20 L989.00,315.20 L988.32,313.20 L987.63,311.20 L986.94,309.20 L986.24,307.20 L985.55,305.20 L984.85,303.20 L984.17,301.20 L983.48,299.20 L982.81,297.20 L982.14,295.20 L981.48,293.20 L980.83,291.20 L980.20,289.20 L979.58,287.20 L978.97,285.20 L978.37,283.20 L977.78,281.20 L977.21,279.20 L976.65,277.20 L976.10,275.20 L975.56,273.20 L975.03,271.20 L974.51,269.20 L974.00,267.20 L973.51,265.20 L973.02,263.20 L972.55,261.20 L972.08,259.20 L971.63,257.20 L971.19,255.20 L970.76,253.20 L970.34,251.20 L969.94,249.20 L969.54,247.20 L969.16,245.20 L968.78,243.20 L968.42,241.20 L968.07,239.20 L967.73,237.20 L967.40,235.20 L967.08,233.20 L966.77,231.20 L966.47,229.20 L966.18,227.20 L965.90,225.20 L965.63,223.20 L965.37,221.20 L965.11,219.20 L964.87,217.20 L964.64,215.20 L964.41,213.20 L964.19,211.20 L963.97,209.20 L963.76,207.20 L963.54,205.20 L963.33,203.20 L963.12,201.20 L962.91,199.20 L962.70,197.20 L962.49,195.20 L962.27,193.20 L962.06,191.20 L961.84,189.20 L961.62,187.20 L961.39,185.20 L961.16,183.20 L960.93,181.20 L960.70,179.20 L960.46,177.20 L960.22,175.20 L959.98,173.20 L959.74,171.20 L959.50,169.20 L959.25,167.20 L959.01,165.20 L958.76,163.20 L958.52,161.20 L958.27,159.20 L958.03,157.20 L957.80,155.20 L957.56,153.20 L957.33,151.20 L957.11,149.20 L956.89,147.20 L956.68,145.20 L956.48,143.20 L956.28,141.20 L956.09,139.20 L955.91,137.20 L955.74,135.20 L955.58,133.20 L955.43,131.20 L955.28,129.20 L955.15,127.20 L955.03,125.20 L954.91,123.20 L954.81,121.20 L954.71,119.20 L954.60,117.20 Z" fill="#B6D497" stroke="#414850" stroke-width="2.1" stroke-linejoin="round"/>
<line x1="913.25" x2="995.95" y1="339.70" y2="339.70" stroke="#414850" stroke-width="2.1" stroke-dasharray="14.15,14.15"/>
<line x1="917.48" x2="991.72" y1="409.20" y2="409.20" stroke="#414850" stroke-width="2.1" stroke-dasharray="28.3,28.3"/>
<line x1="933.92" x2="975.28" y1="525.00" y2="525.00" stroke="#414850" stroke-width="2.1" stroke-dasharray="14.15,14.15"/>
<rect x="857.8" y="858.2" width="162.4" height="118" rx="2.5" fill="#ecedf4" fill-opacity="0.85" stroke="#e4e4ec" stroke-width="1"/>
<rect x="868.6" y="868.20" width="53.7" height="18.5" fill="#B3CCDB" stroke="#5c6670" stroke-width="1"/>
<rect x="868.6" y="904.65" width="53.7" height="18.5" fill="#44729F" stroke="#5c6670" stroke-width="1"/>
<rect x="868.6" y="941.10" width="53.7" height="18.5" fill="#B6D497" stroke="#5c6670" stroke-width="1"/>
<g opacity="0.985">
<text x="942.6" y="887.20" font-size="25.5">Asian</text>
<text x="942.6" y="923.65" font-size="25.5">Black</text>
<text x="942.6" y="960.10" font-size="25.5">White</text>
<text x="46.3" y="102.83" font-size="25.5" text-anchor="end">4</text>
<text x="46.3" y="226.39" font-size="25.5" text-anchor="end">2</text>
<text x="46.3" y="349.95" font-size="25.5" text-anchor="end">0</text>
<text x="46.3" y="473.51" font-size="25.5" text-anchor="end">−2</text>
<text x="46.3" y="597.07" font-size="25.5" text-anchor="end">−4</text>
<text x="46.3" y="720.63" font-size="25.5" text-anchor="end">−6</text>
<text x="46.3" y="844.19" font-size="25.5" text-anchor="end">−8</text>
<text x="46.3" y="967.75" font-size="25.5" text-anchor="end">−10</text>
<text x="214.80" y="1012.9" font-size="25.5" text-anchor="middle">1990</text>
<text x="540.80" y="1012.9" font-size="25.5" text-anchor="middle">2000</text>
<text x="866.80" y="1012.9" font-size="25.5" text-anchor="middle">2010</text>
<text x="541.2" y="1040.2" font-size="27.9" text-anchor="middle">Decade, Years</text>
<text x="541.2" y="30.5" font-size="28.1" text-anchor="middle">Comparison of Spherical Equivalent Distribution by Decade</text>
</g>
</svg>
</body></html>
